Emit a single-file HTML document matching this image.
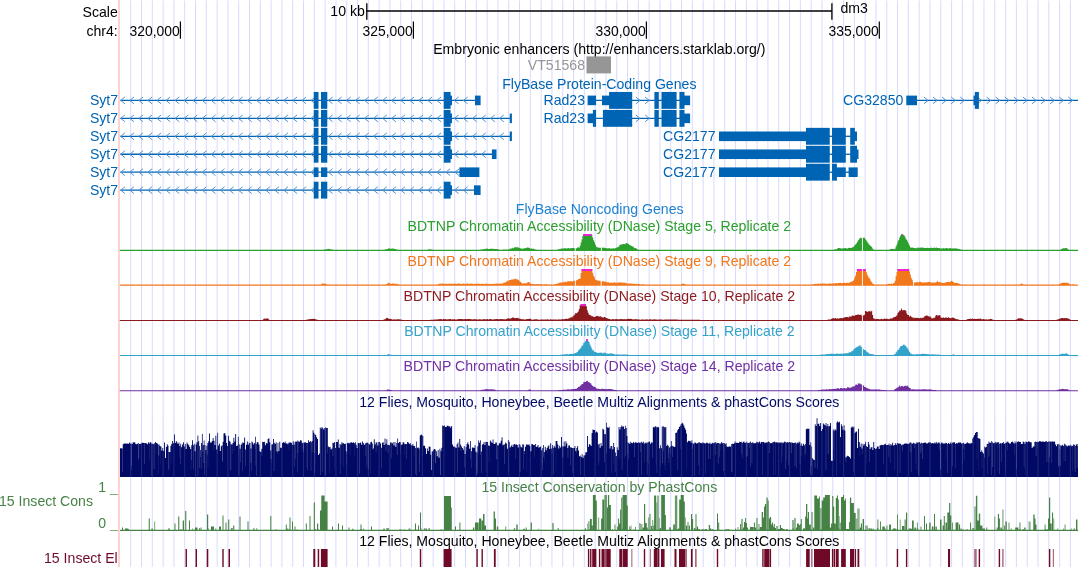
<!DOCTYPE html>
<html><head><meta charset="utf-8"><title>UCSC Genome Browser dm3 chr4</title>
<style>html,body{margin:0;padding:0;background:#fff}body{width:1078px;height:567px;overflow:hidden}svg{display:block}</style>
</head><body>
<svg width="1078" height="567" viewBox="0 0 1078 567" font-family="Liberation Sans, Arial, Helvetica, sans-serif" font-size="14.1">
<rect width="1078" height="567" fill="#fff"/>
<path d="M130.70 0.5V567M141.50 0.5V567M152.30 0.5V567M163.10 0.5V567M173.90 0.5V567M184.70 0.5V567M195.51 0.5V567M206.31 0.5V567M217.11 0.5V567M227.91 0.5V567M238.71 0.5V567M249.51 0.5V567M260.31 0.5V567M271.11 0.5V567M281.91 0.5V567M292.72 0.5V567M303.52 0.5V567M314.32 0.5V567M325.12 0.5V567M335.92 0.5V567M346.72 0.5V567M357.52 0.5V567M368.32 0.5V567M379.12 0.5V567M389.92 0.5V567M400.72 0.5V567M411.53 0.5V567M422.33 0.5V567M433.13 0.5V567M443.93 0.5V567M454.73 0.5V567M465.53 0.5V567M476.33 0.5V567M487.13 0.5V567M497.93 0.5V567M508.74 0.5V567M519.54 0.5V567M530.34 0.5V567M541.14 0.5V567M551.94 0.5V567M562.74 0.5V567M573.54 0.5V567M584.34 0.5V567M595.14 0.5V567M605.94 0.5V567M616.75 0.5V567M627.55 0.5V567M638.35 0.5V567M649.15 0.5V567M659.95 0.5V567M670.75 0.5V567M681.55 0.5V567M692.35 0.5V567M703.15 0.5V567M713.95 0.5V567M724.76 0.5V567M735.56 0.5V567M746.36 0.5V567M757.16 0.5V567M767.96 0.5V567M778.76 0.5V567M789.56 0.5V567M800.36 0.5V567M811.16 0.5V567M821.96 0.5V567M832.77 0.5V567M843.57 0.5V567M854.37 0.5V567M865.17 0.5V567M875.97 0.5V567M886.77 0.5V567M897.57 0.5V567M908.37 0.5V567M919.17 0.5V567M929.97 0.5V567M940.78 0.5V567M951.58 0.5V567M962.38 0.5V567M973.18 0.5V567M983.98 0.5V567M994.78 0.5V567M1005.58 0.5V567M1016.38 0.5V567M1027.18 0.5V567M1037.98 0.5V567M1048.79 0.5V567M1059.59 0.5V567M1070.39 0.5V567" stroke="#d9d9ff" stroke-width="1.0" fill="none" opacity="1"/>
<rect x="118.2" y="0" width="1.6" height="567" fill="#ffc8c8"/>
<path d="M366.7 11H832" stroke="#000" stroke-width="1.7" fill="none"/>
<path d="M366.8 3.2V19.8M831.9 3.2V19.8" stroke="#000" stroke-width="1.3" fill="none"/>
<path d="M180.4 21.5V38.7" stroke="#000" stroke-width="1.2" fill="none"/>
<path d="M413.4 21.5V38.7" stroke="#000" stroke-width="1.2" fill="none"/>
<path d="M646.4 21.5V38.7" stroke="#000" stroke-width="1.2" fill="none"/>
<path d="M879.3 21.5V38.7" stroke="#000" stroke-width="1.2" fill="none"/>
<text x="117.8" y="16.5" fill="#000" text-anchor="end" >Scale</text>
<text x="364.8" y="16.0" fill="#000" text-anchor="end" >10 kb</text>
<text x="840.4" y="13.0" fill="#000" text-anchor="start" >dm3</text>
<text x="117.8" y="35.9" fill="#000" text-anchor="end" >chr4:</text>
<text x="179.8" y="35.9" fill="#000" text-anchor="end" font-size="13.9">320,000</text>
<text x="412.79999999999995" y="35.9" fill="#000" text-anchor="end" font-size="13.9">325,000</text>
<text x="645.8" y="35.9" fill="#000" text-anchor="end" font-size="13.9">330,000</text>
<text x="878.6999999999999" y="35.9" fill="#000" text-anchor="end" font-size="13.9">335,000</text>
<text x="599.3" y="53.6" fill="#000" text-anchor="middle" >Embryonic enhancers (http://enhancers.starklab.org/)</text>
<text x="585.0" y="69.8" fill="#969696" text-anchor="end" >VT51568</text>
<rect x="586.5" y="56.4" width="24.5" height="17" fill="#969696"/>
<text x="599.3" y="88.9" fill="#0064b4" text-anchor="middle" >FlyBase Protein-Coding Genes</text>
<path d="M120.25 100.40H478" stroke="#0064b4" stroke-width="1.3" fill="none"/><path d="M124.90 97.00L120.70 100.40L124.90 103.80M133.96 97.00L129.76 100.40L133.96 103.80M143.02 97.00L138.82 100.40L143.02 103.80M152.08 97.00L147.88 100.40L152.08 103.80M161.14 97.00L156.94 100.40L161.14 103.80M170.20 97.00L166.00 100.40L170.20 103.80M179.26 97.00L175.06 100.40L179.26 103.80M188.32 97.00L184.12 100.40L188.32 103.80M197.38 97.00L193.18 100.40L197.38 103.80M206.44 97.00L202.24 100.40L206.44 103.80M215.50 97.00L211.30 100.40L215.50 103.80M224.56 97.00L220.36 100.40L224.56 103.80M233.62 97.00L229.42 100.40L233.62 103.80M242.68 97.00L238.48 100.40L242.68 103.80M251.74 97.00L247.54 100.40L251.74 103.80M260.80 97.00L256.60 100.40L260.80 103.80M269.86 97.00L265.66 100.40L269.86 103.80M278.92 97.00L274.72 100.40L278.92 103.80M287.98 97.00L283.78 100.40L287.98 103.80M297.04 97.00L292.84 100.40L297.04 103.80M306.10 97.00L301.90 100.40L306.10 103.80M315.16 97.00L310.96 100.40L315.16 103.80M332.60 97.00L328.40 100.40L332.60 103.80M341.64 97.00L337.44 100.40L341.64 103.80M350.68 97.00L346.48 100.40L350.68 103.80M359.72 97.00L355.52 100.40L359.72 103.80M368.76 97.00L364.56 100.40L368.76 103.80M377.80 97.00L373.60 100.40L377.80 103.80M386.84 97.00L382.64 100.40L386.84 103.80M395.88 97.00L391.68 100.40L395.88 103.80M404.92 97.00L400.72 100.40L404.92 103.80M413.96 97.00L409.76 100.40L413.96 103.80M423.00 97.00L418.80 100.40L423.00 103.80M432.04 97.00L427.84 100.40L432.04 103.80M441.08 97.00L436.88 100.40L441.08 103.80M458.60 97.00L454.40 100.40L458.60 103.80M467.65 97.00L463.45 100.40L467.65 103.80" stroke="#5094d2" stroke-width="1" fill="none"/><rect x="313.75" y="91.95" width="4.75" height="16.90" fill="#0064b4"/><rect x="321" y="91.95" width="6.30" height="16.90" fill="#0064b4"/><rect x="443.75" y="91.95" width="6.85" height="16.90" fill="#0064b4"/><rect x="449.6" y="95.60" width="2.40" height="9.60" fill="#0064b4"/><rect x="475" y="95.60" width="5.60" height="9.60" fill="#0064b4"/><path d="M120.25 118.35H511" stroke="#0064b4" stroke-width="1.3" fill="none"/><path d="M124.90 114.95L120.70 118.35L124.90 121.75M133.96 114.95L129.76 118.35L133.96 121.75M143.02 114.95L138.82 118.35L143.02 121.75M152.08 114.95L147.88 118.35L152.08 121.75M161.14 114.95L156.94 118.35L161.14 121.75M170.20 114.95L166.00 118.35L170.20 121.75M179.26 114.95L175.06 118.35L179.26 121.75M188.32 114.95L184.12 118.35L188.32 121.75M197.38 114.95L193.18 118.35L197.38 121.75M206.44 114.95L202.24 118.35L206.44 121.75M215.50 114.95L211.30 118.35L215.50 121.75M224.56 114.95L220.36 118.35L224.56 121.75M233.62 114.95L229.42 118.35L233.62 121.75M242.68 114.95L238.48 118.35L242.68 121.75M251.74 114.95L247.54 118.35L251.74 121.75M260.80 114.95L256.60 118.35L260.80 121.75M269.86 114.95L265.66 118.35L269.86 121.75M278.92 114.95L274.72 118.35L278.92 121.75M287.98 114.95L283.78 118.35L287.98 121.75M297.04 114.95L292.84 118.35L297.04 121.75M306.10 114.95L301.90 118.35L306.10 121.75M315.16 114.95L310.96 118.35L315.16 121.75M332.60 114.95L328.40 118.35L332.60 121.75M341.64 114.95L337.44 118.35L341.64 121.75M350.68 114.95L346.48 118.35L350.68 121.75M359.72 114.95L355.52 118.35L359.72 121.75M368.76 114.95L364.56 118.35L368.76 121.75M377.80 114.95L373.60 118.35L377.80 121.75M386.84 114.95L382.64 118.35L386.84 121.75M395.88 114.95L391.68 118.35L395.88 121.75M404.92 114.95L400.72 118.35L404.92 121.75M413.96 114.95L409.76 118.35L413.96 121.75M423.00 114.95L418.80 118.35L423.00 121.75M432.04 114.95L427.84 118.35L432.04 121.75M441.08 114.95L436.88 118.35L441.08 121.75M458.60 114.95L454.40 118.35L458.60 121.75M467.65 114.95L463.45 118.35L467.65 121.75M476.70 114.95L472.50 118.35L476.70 121.75M485.75 114.95L481.55 118.35L485.75 121.75M494.80 114.95L490.60 118.35L494.80 121.75M503.85 114.95L499.65 118.35L503.85 121.75" stroke="#5094d2" stroke-width="1" fill="none"/><rect x="313.75" y="109.90" width="4.75" height="16.90" fill="#0064b4"/><rect x="321" y="109.90" width="6.30" height="16.90" fill="#0064b4"/><rect x="443.75" y="109.90" width="6.85" height="16.90" fill="#0064b4"/><rect x="449.6" y="113.55" width="2.40" height="9.60" fill="#0064b4"/><rect x="509.75" y="113.55" width="2.15" height="9.60" fill="#0064b4"/><path d="M120.25 136.30H511" stroke="#0064b4" stroke-width="1.3" fill="none"/><path d="M124.90 132.90L120.70 136.30L124.90 139.70M133.96 132.90L129.76 136.30L133.96 139.70M143.02 132.90L138.82 136.30L143.02 139.70M152.08 132.90L147.88 136.30L152.08 139.70M161.14 132.90L156.94 136.30L161.14 139.70M170.20 132.90L166.00 136.30L170.20 139.70M179.26 132.90L175.06 136.30L179.26 139.70M188.32 132.90L184.12 136.30L188.32 139.70M197.38 132.90L193.18 136.30L197.38 139.70M206.44 132.90L202.24 136.30L206.44 139.70M215.50 132.90L211.30 136.30L215.50 139.70M224.56 132.90L220.36 136.30L224.56 139.70M233.62 132.90L229.42 136.30L233.62 139.70M242.68 132.90L238.48 136.30L242.68 139.70M251.74 132.90L247.54 136.30L251.74 139.70M260.80 132.90L256.60 136.30L260.80 139.70M269.86 132.90L265.66 136.30L269.86 139.70M278.92 132.90L274.72 136.30L278.92 139.70M287.98 132.90L283.78 136.30L287.98 139.70M297.04 132.90L292.84 136.30L297.04 139.70M306.10 132.90L301.90 136.30L306.10 139.70M315.16 132.90L310.96 136.30L315.16 139.70M332.60 132.90L328.40 136.30L332.60 139.70M341.64 132.90L337.44 136.30L341.64 139.70M350.68 132.90L346.48 136.30L350.68 139.70M359.72 132.90L355.52 136.30L359.72 139.70M368.76 132.90L364.56 136.30L368.76 139.70M377.80 132.90L373.60 136.30L377.80 139.70M386.84 132.90L382.64 136.30L386.84 139.70M395.88 132.90L391.68 136.30L395.88 139.70M404.92 132.90L400.72 136.30L404.92 139.70M413.96 132.90L409.76 136.30L413.96 139.70M423.00 132.90L418.80 136.30L423.00 139.70M432.04 132.90L427.84 136.30L432.04 139.70M441.08 132.90L436.88 136.30L441.08 139.70M458.60 132.90L454.40 136.30L458.60 139.70M467.65 132.90L463.45 136.30L467.65 139.70M476.70 132.90L472.50 136.30L476.70 139.70M485.75 132.90L481.55 136.30L485.75 139.70M494.80 132.90L490.60 136.30L494.80 139.70M503.85 132.90L499.65 136.30L503.85 139.70" stroke="#5094d2" stroke-width="1" fill="none"/><rect x="313.75" y="127.85" width="4.75" height="16.90" fill="#0064b4"/><rect x="321" y="127.85" width="6.30" height="16.90" fill="#0064b4"/><rect x="443.75" y="127.85" width="6.85" height="16.90" fill="#0064b4"/><rect x="449.6" y="131.50" width="2.40" height="9.60" fill="#0064b4"/><rect x="509.75" y="131.50" width="2.15" height="9.60" fill="#0064b4"/><path d="M120.25 154.25H494" stroke="#0064b4" stroke-width="1.3" fill="none"/><path d="M124.90 150.85L120.70 154.25L124.90 157.65M133.96 150.85L129.76 154.25L133.96 157.65M143.02 150.85L138.82 154.25L143.02 157.65M152.08 150.85L147.88 154.25L152.08 157.65M161.14 150.85L156.94 154.25L161.14 157.65M170.20 150.85L166.00 154.25L170.20 157.65M179.26 150.85L175.06 154.25L179.26 157.65M188.32 150.85L184.12 154.25L188.32 157.65M197.38 150.85L193.18 154.25L197.38 157.65M206.44 150.85L202.24 154.25L206.44 157.65M215.50 150.85L211.30 154.25L215.50 157.65M224.56 150.85L220.36 154.25L224.56 157.65M233.62 150.85L229.42 154.25L233.62 157.65M242.68 150.85L238.48 154.25L242.68 157.65M251.74 150.85L247.54 154.25L251.74 157.65M260.80 150.85L256.60 154.25L260.80 157.65M269.86 150.85L265.66 154.25L269.86 157.65M278.92 150.85L274.72 154.25L278.92 157.65M287.98 150.85L283.78 154.25L287.98 157.65M297.04 150.85L292.84 154.25L297.04 157.65M306.10 150.85L301.90 154.25L306.10 157.65M315.16 150.85L310.96 154.25L315.16 157.65M332.60 150.85L328.40 154.25L332.60 157.65M341.64 150.85L337.44 154.25L341.64 157.65M350.68 150.85L346.48 154.25L350.68 157.65M359.72 150.85L355.52 154.25L359.72 157.65M368.76 150.85L364.56 154.25L368.76 157.65M377.80 150.85L373.60 154.25L377.80 157.65M386.84 150.85L382.64 154.25L386.84 157.65M395.88 150.85L391.68 154.25L395.88 157.65M404.92 150.85L400.72 154.25L404.92 157.65M413.96 150.85L409.76 154.25L413.96 157.65M423.00 150.85L418.80 154.25L423.00 157.65M432.04 150.85L427.84 154.25L432.04 157.65M441.08 150.85L436.88 154.25L441.08 157.65M458.60 150.85L454.40 154.25L458.60 157.65M467.65 150.85L463.45 154.25L467.65 157.65M476.70 150.85L472.50 154.25L476.70 157.65M485.75 150.85L481.55 154.25L485.75 157.65" stroke="#5094d2" stroke-width="1" fill="none"/><rect x="313.75" y="145.80" width="4.75" height="16.90" fill="#0064b4"/><rect x="321" y="145.80" width="6.30" height="16.90" fill="#0064b4"/><rect x="443.75" y="145.80" width="6.85" height="16.90" fill="#0064b4"/><rect x="449.6" y="149.45" width="2.40" height="9.60" fill="#0064b4"/><rect x="491.9" y="149.45" width="4.60" height="9.60" fill="#0064b4"/><path d="M120.25 172.20H470" stroke="#0064b4" stroke-width="1.3" fill="none"/><path d="M124.90 168.80L120.70 172.20L124.90 175.60M133.96 168.80L129.76 172.20L133.96 175.60M143.02 168.80L138.82 172.20L143.02 175.60M152.08 168.80L147.88 172.20L152.08 175.60M161.14 168.80L156.94 172.20L161.14 175.60M170.20 168.80L166.00 172.20L170.20 175.60M179.26 168.80L175.06 172.20L179.26 175.60M188.32 168.80L184.12 172.20L188.32 175.60M197.38 168.80L193.18 172.20L197.38 175.60M206.44 168.80L202.24 172.20L206.44 175.60M215.50 168.80L211.30 172.20L215.50 175.60M224.56 168.80L220.36 172.20L224.56 175.60M233.62 168.80L229.42 172.20L233.62 175.60M242.68 168.80L238.48 172.20L242.68 175.60M251.74 168.80L247.54 172.20L251.74 175.60M260.80 168.80L256.60 172.20L260.80 175.60M269.86 168.80L265.66 172.20L269.86 175.60M278.92 168.80L274.72 172.20L278.92 175.60M287.98 168.80L283.78 172.20L287.98 175.60M297.04 168.80L292.84 172.20L297.04 175.60M306.10 168.80L301.90 172.20L306.10 175.60M315.16 168.80L310.96 172.20L315.16 175.60M332.60 168.80L328.40 172.20L332.60 175.60M341.64 168.80L337.44 172.20L341.64 175.60M350.68 168.80L346.48 172.20L350.68 175.60M359.72 168.80L355.52 172.20L359.72 175.60M368.76 168.80L364.56 172.20L368.76 175.60M377.80 168.80L373.60 172.20L377.80 175.60M386.84 168.80L382.64 172.20L386.84 175.60M395.88 168.80L391.68 172.20L395.88 175.60M404.92 168.80L400.72 172.20L404.92 175.60M413.96 168.80L409.76 172.20L413.96 175.60M423.00 168.80L418.80 172.20L423.00 175.60M432.04 168.80L427.84 172.20L432.04 175.60M441.08 168.80L436.88 172.20L441.08 175.60M450.12 168.80L445.92 172.20L450.12 175.60M459.16 168.80L454.96 172.20L459.16 175.60" stroke="#5094d2" stroke-width="1" fill="none"/><rect x="313.75" y="167.40" width="4.75" height="9.60" fill="#0064b4"/><rect x="321" y="167.40" width="6.30" height="9.60" fill="#0064b4"/><rect x="459.4" y="167.40" width="20.00" height="9.60" fill="#0064b4"/><path d="M120.25 190.15H478" stroke="#0064b4" stroke-width="1.3" fill="none"/><path d="M124.90 186.75L120.70 190.15L124.90 193.55M133.96 186.75L129.76 190.15L133.96 193.55M143.02 186.75L138.82 190.15L143.02 193.55M152.08 186.75L147.88 190.15L152.08 193.55M161.14 186.75L156.94 190.15L161.14 193.55M170.20 186.75L166.00 190.15L170.20 193.55M179.26 186.75L175.06 190.15L179.26 193.55M188.32 186.75L184.12 190.15L188.32 193.55M197.38 186.75L193.18 190.15L197.38 193.55M206.44 186.75L202.24 190.15L206.44 193.55M215.50 186.75L211.30 190.15L215.50 193.55M224.56 186.75L220.36 190.15L224.56 193.55M233.62 186.75L229.42 190.15L233.62 193.55M242.68 186.75L238.48 190.15L242.68 193.55M251.74 186.75L247.54 190.15L251.74 193.55M260.80 186.75L256.60 190.15L260.80 193.55M269.86 186.75L265.66 190.15L269.86 193.55M278.92 186.75L274.72 190.15L278.92 193.55M287.98 186.75L283.78 190.15L287.98 193.55M297.04 186.75L292.84 190.15L297.04 193.55M306.10 186.75L301.90 190.15L306.10 193.55M315.16 186.75L310.96 190.15L315.16 193.55M332.60 186.75L328.40 190.15L332.60 193.55M341.64 186.75L337.44 190.15L341.64 193.55M350.68 186.75L346.48 190.15L350.68 193.55M359.72 186.75L355.52 190.15L359.72 193.55M368.76 186.75L364.56 190.15L368.76 193.55M377.80 186.75L373.60 190.15L377.80 193.55M386.84 186.75L382.64 190.15L386.84 193.55M395.88 186.75L391.68 190.15L395.88 193.55M404.92 186.75L400.72 190.15L404.92 193.55M413.96 186.75L409.76 190.15L413.96 193.55M423.00 186.75L418.80 190.15L423.00 193.55M432.04 186.75L427.84 190.15L432.04 193.55M441.08 186.75L436.88 190.15L441.08 193.55M458.60 186.75L454.40 190.15L458.60 193.55M467.65 186.75L463.45 190.15L467.65 193.55" stroke="#5094d2" stroke-width="1" fill="none"/><rect x="313.75" y="181.70" width="4.75" height="16.90" fill="#0064b4"/><rect x="321" y="181.70" width="6.30" height="16.90" fill="#0064b4"/><rect x="443.75" y="181.70" width="6.85" height="16.90" fill="#0064b4"/><rect x="449.6" y="185.35" width="2.40" height="9.60" fill="#0064b4"/><rect x="474" y="185.35" width="6.60" height="9.60" fill="#0064b4"/><path d="M590 100.40H688" stroke="#0064b4" stroke-width="1.3" fill="none"/><path d="M635.80 97.00L640.00 100.40L635.80 103.80M645.10 97.00L649.30 100.40L645.10 103.80" stroke="#5094d2" stroke-width="1" fill="none"/><rect x="609.1" y="91.95" width="23.10" height="16.90" fill="#0064b4"/><rect x="654.4" y="91.95" width="4.40" height="16.90" fill="#0064b4"/><rect x="661.5" y="91.95" width="15.10" height="16.90" fill="#0064b4"/><rect x="679.4" y="91.95" width="5.10" height="16.90" fill="#0064b4"/><rect x="587.6" y="95.60" width="8.50" height="9.60" fill="#0064b4"/><rect x="602" y="95.60" width="8.10" height="9.60" fill="#0064b4"/><rect x="683.5" y="95.60" width="6.60" height="9.60" fill="#0064b4"/><path d="M590 118.35H688" stroke="#0064b4" stroke-width="1.3" fill="none"/><path d="M635.80 114.95L640.00 118.35L635.80 121.75M645.10 114.95L649.30 118.35L645.10 121.75" stroke="#5094d2" stroke-width="1" fill="none"/><rect x="592.9" y="109.90" width="3.20" height="16.90" fill="#0064b4"/><rect x="602.9" y="109.90" width="29.30" height="16.90" fill="#0064b4"/><rect x="654.4" y="109.90" width="4.40" height="16.90" fill="#0064b4"/><rect x="661.5" y="109.90" width="15.10" height="16.90" fill="#0064b4"/><rect x="679.4" y="109.90" width="5.10" height="16.90" fill="#0064b4"/><rect x="587.6" y="113.55" width="6.30" height="9.60" fill="#0064b4"/><rect x="683.5" y="113.55" width="6.60" height="9.60" fill="#0064b4"/><path d="M825 136.30H856" stroke="#0064b4" stroke-width="1.3" fill="none"/><rect x="806" y="127.85" width="23.75" height="16.90" fill="#0064b4"/><rect x="832" y="127.85" width="13.80" height="16.90" fill="#0064b4"/><rect x="850.2" y="127.85" width="4.60" height="16.90" fill="#0064b4"/><rect x="719" y="131.50" width="88.00" height="9.60" fill="#0064b4"/><rect x="853.8" y="131.50" width="3.20" height="9.60" fill="#0064b4"/><path d="M825 154.25H856" stroke="#0064b4" stroke-width="1.3" fill="none"/><rect x="806" y="145.80" width="23.75" height="16.90" fill="#0064b4"/><rect x="832" y="145.80" width="13.80" height="16.90" fill="#0064b4"/><rect x="850.2" y="145.80" width="6.80" height="16.90" fill="#0064b4"/><rect x="719" y="149.45" width="88.00" height="9.60" fill="#0064b4"/><rect x="856" y="149.45" width="2.50" height="9.60" fill="#0064b4"/><path d="M825 172.20H856" stroke="#0064b4" stroke-width="1.3" fill="none"/><rect x="806" y="163.75" width="23.75" height="16.90" fill="#0064b4"/><rect x="832" y="163.75" width="4.90" height="16.90" fill="#0064b4"/><rect x="719" y="167.40" width="88.00" height="9.60" fill="#0064b4"/><rect x="835.9" y="167.40" width="9.90" height="9.60" fill="#0064b4"/><rect x="848.6" y="167.40" width="9.10" height="9.60" fill="#0064b4"/><path d="M910 100.40H1078" stroke="#0064b4" stroke-width="1.3" fill="none"/><path d="M923.87 97.00L928.07 100.40L923.87 103.80M932.95 97.00L937.15 100.40L932.95 103.80M942.03 97.00L946.23 100.40L942.03 103.80M951.11 97.00L955.31 100.40L951.11 103.80M960.19 97.00L964.39 100.40L960.19 103.80M977.50 97.00L981.70 100.40L977.50 103.80M986.58 97.00L990.78 100.40L986.58 103.80M995.66 97.00L999.86 100.40L995.66 103.80M1004.74 97.00L1008.94 100.40L1004.74 103.80M1013.82 97.00L1018.02 100.40L1013.82 103.80M1022.90 97.00L1027.10 100.40L1022.90 103.80M1031.98 97.00L1036.18 100.40L1031.98 103.80M1041.06 97.00L1045.26 100.40L1041.06 103.80M1050.14 97.00L1054.34 100.40L1050.14 103.80M1059.22 97.00L1063.42 100.40L1059.22 103.80M1068.30 97.00L1072.50 100.40L1068.30 103.80" stroke="#5094d2" stroke-width="1" fill="none"/><rect x="974.8" y="91.95" width="4.10" height="16.90" fill="#0064b4"/><rect x="906.3" y="95.60" width="10.70" height="9.60" fill="#0064b4"/><rect x="973.5" y="95.60" width="2.30" height="9.60" fill="#0064b4"/>
<text x="118.1" y="104.85000000000001" fill="#0064b4" text-anchor="end" >Syt7</text>
<text x="118.1" y="122.80000000000001" fill="#0064b4" text-anchor="end" >Syt7</text>
<text x="118.1" y="140.75" fill="#0064b4" text-anchor="end" >Syt7</text>
<text x="118.1" y="158.7" fill="#0064b4" text-anchor="end" >Syt7</text>
<text x="118.1" y="176.64999999999998" fill="#0064b4" text-anchor="end" >Syt7</text>
<text x="118.1" y="194.6" fill="#0064b4" text-anchor="end" >Syt7</text>
<text x="585.0" y="104.85000000000001" fill="#0064b4" text-anchor="end" >Rad23</text>
<text x="585.0" y="122.80000000000001" fill="#0064b4" text-anchor="end" >Rad23</text>
<text x="715.5" y="140.75" fill="#0064b4" text-anchor="end" >CG2177</text>
<text x="715.5" y="158.7" fill="#0064b4" text-anchor="end" >CG2177</text>
<text x="715.5" y="176.64999999999998" fill="#0064b4" text-anchor="end" >CG2177</text>
<text x="903.4" y="104.85000000000001" fill="#0064b4" text-anchor="end" >CG32850</text>
<text x="599.6999999999999" y="213.5" fill="#1e82d2" text-anchor="middle" >FlyBase Noncoding Genes</text>
<text x="599.3" y="230.7" fill="#2ca02c" text-anchor="middle" >BDTNP Chromatin Accessibility (DNase) Stage 5, Replicate 2</text>
<text x="599.3" y="265.6" fill="#f2761a" text-anchor="middle" >BDTNP Chromatin Accessibility (DNase) Stage 9, Replicate 2</text>
<text x="599.3" y="300.8" fill="#8c1a1c" text-anchor="middle" >BDTNP Chromatin Accessibility (DNase) Stage 10, Replicate 2</text>
<text x="599.3" y="335.9" fill="#34a3c9" text-anchor="middle" >BDTNP Chromatin Accessibility (DNase) Stage 11, Replicate 2</text>
<text x="599.3" y="371.0" fill="#7030a0" text-anchor="middle" >BDTNP Chromatin Accessibility (DNase) Stage 14, Replicate 2</text>
<path d="M119.8 250.9V249.8H120.7V249.8H121.6V249.8H122.5V249.8H123.4V249.8H124.3V249.8H125.2V249.8H126.1V249.8H127.0V249.8H127.9V249.8H128.8V249.8H129.7V249.8H130.6V249.8H131.5V249.8H132.4V249.8H133.3V249.8H134.2V249.8H135.1V249.8H136.0V249.8H136.9V249.8H137.8V249.8H138.7V249.8H139.6V249.8H140.5V249.8H141.4V249.8H142.3V249.8H143.2V249.8H144.1V249.8H145.0V249.8H145.9V249.8H146.8V249.8H147.7V249.8H148.6V249.8H149.5V249.8H150.4V249.8H151.3V249.8H152.2V249.8H153.1V249.8H154.0V249.8H154.9V249.8H155.8V249.8H156.7V249.8H157.6V249.8H158.5V249.8H159.4V249.8H160.3V249.8H161.2V249.8H162.1V249.8H163.0V249.8H163.9V249.8H164.8V249.8H165.7V249.8H166.6V249.8H167.5V249.8H168.4V249.8H169.3V249.8H170.2V249.8H171.1V249.8H172.0V249.8H172.9V249.8H173.8V249.8H174.7V249.8H175.6V249.8H176.5V249.8H177.4V249.8H178.3V249.8H179.2V249.8H180.1V249.8H181.0V249.8H181.9V249.8H182.8V249.8H183.7V249.8H184.6V249.8H185.5V249.8H186.4V249.8H187.3V249.8H188.2V249.8H189.1V249.8H190.0V249.8H190.9V249.8H191.8V249.8H192.7V249.8H193.6V249.8H194.5V249.8H195.4V249.8H196.3V249.8H197.2V249.8H198.1V249.8H199.0V249.8H199.9V249.8H200.8V249.8H201.7V249.8H202.6V249.8H203.5V249.8H204.4V249.8H205.3V249.8H206.2V249.8H207.1V249.8H208.0V249.8H208.9V249.8H209.8V249.8H210.7V249.8H211.6V249.8H212.5V249.8H213.4V249.8H214.3V249.8H215.2V249.8H216.1V249.8H217.0V249.8H217.9V249.8H218.8V249.8H219.7V249.8H220.6V249.8H221.5V249.8H222.4V249.8H223.3V249.8H224.2V249.8H225.1V249.8H226.0V249.8H226.9V249.8H227.8V249.8H228.7V249.8H229.6V249.8H230.5V249.8H231.4V249.8H232.3V249.8H233.2V249.8H234.1V249.8H235.0V249.8H235.9V249.8H236.8V249.8H237.7V249.8H238.6V249.8H239.5V249.8H240.4V249.8H241.3V249.8H242.2V249.8H243.1V249.8H244.0V249.8H244.9V249.8H245.8V249.8H246.7V249.8H247.6V249.8H248.5V249.8H249.4V249.8H250.3V249.8H251.2V249.8H252.1V249.8H253.0V249.8H253.9V249.8H254.8V249.8H255.7V249.8H256.6V249.8H257.5V249.8H258.4V249.8H259.3V249.8H260.2V249.8H261.1V249.8H262.0V249.8H262.9V249.8H263.8V249.8H264.7V249.8H265.6V249.8H266.5V249.8H267.4V249.8H268.3V249.8H269.2V249.8H270.1V249.8H271.0V249.8H271.9V249.8H272.8V249.8H273.7V249.8H274.6V249.8H275.5V249.8H276.4V249.8H277.3V249.8H278.2V249.8H279.1V249.8H280.0V249.8H280.9V249.8H281.8V249.8H282.7V249.8H283.6V249.8H284.5V249.8H285.4V249.8H286.3V249.8H287.2V249.8H288.1V249.8H289.0V249.8H289.9V249.8H290.8V249.8H291.7V249.8H292.6V249.8H293.5V249.8H294.4V249.8H295.3V249.8H296.2V249.8H297.1V249.8H298.0V249.8H298.9V249.8H299.8V249.8H300.7V249.8H301.6V249.8H302.5V249.8H303.4V249.8H304.3V249.8H305.2V249.8H306.1V249.8H307.0V249.8H307.9V249.8H308.8V249.8H309.7V249.8H310.6V249.8H311.5V249.8H312.4V249.8H313.3V249.8H314.2V249.8H315.1V249.8H316.0V249.8H316.9V249.8H317.8V249.8H318.7V249.8H319.6V249.8H320.5V249.8H321.4V249.8H322.3V249.7H323.2V249.5H324.1V249.5H325.0V249.4H325.9V249.0H326.8V249.2H327.7V248.7H328.6V248.9H329.5V249.3H330.4V249.2H331.3V249.6H332.2V249.6H333.1V249.8H334.0V249.8H334.9V249.8H335.8V249.8H336.7V249.8H337.6V249.8H338.5V249.8H339.4V249.8H340.3V249.8H341.2V249.8H342.1V249.8H343.0V249.8H343.9V249.8H344.8V249.8H345.7V249.8H346.6V249.8H347.5V249.8H348.4V249.8H349.3V249.8H350.2V249.8H351.1V249.8H352.0V249.8H352.9V249.8H353.8V249.8H354.7V249.8H355.6V249.8H356.5V249.8H357.4V249.8H358.3V249.8H359.2V249.8H360.1V249.8H361.0V249.8H361.9V249.8H362.8V249.8H363.7V249.8H364.6V249.8H365.5V249.8H366.4V249.8H367.3V249.8H368.2V249.8H369.1V249.8H370.0V249.8H370.9V249.8H371.8V249.8H372.7V249.8H373.6V249.8H374.5V249.8H375.4V249.8H376.3V249.8H377.2V249.8H378.1V249.8H379.0V249.8H379.9V249.8H380.8V249.8H381.7V249.8H382.6V249.8H383.5V249.8H384.4V249.6H385.3V249.3H386.2V249.3H387.1V249.0H388.0V248.5H388.9V248.2H389.8V248.8H390.7V248.7H391.6V248.5H392.5V248.4H393.4V248.8H394.3V249.1H395.2V249.0H396.1V249.6H397.0V249.6H397.9V249.7H398.8V249.8H399.7V249.8H400.6V249.8H401.5V249.8H402.4V249.8H403.3V249.8H404.2V249.8H405.1V249.8H406.0V249.8H406.9V249.8H407.8V249.8H408.7V249.8H409.6V249.8H410.5V249.8H411.4V249.8H412.3V249.8H413.2V249.8H414.1V249.8H415.0V249.8H415.9V249.8H416.8V249.8H417.7V249.8H418.6V249.8H419.5V249.8H420.4V249.8H421.3V249.8H422.2V249.8H423.1V249.8H424.0V249.8H424.9V249.8H425.8V249.8H426.7V249.8H427.6V249.6H428.5V249.2H429.4V249.2H430.3V249.2H431.2V249.4H432.1V249.5H433.0V249.8H433.9V249.8H434.8V249.8H435.7V249.8H436.6V249.8H437.5V249.8H438.4V249.8H439.3V249.8H440.2V249.8H441.1V249.8H442.0V249.8H442.9V249.8H443.8V249.8H444.7V249.8H445.6V249.8H446.5V249.8H447.4V249.8H448.3V249.8H449.2V249.8H450.1V249.8H451.0V249.8H451.9V249.8H452.8V249.8H453.7V249.8H454.6V249.8H455.5V249.8H456.4V249.8H457.3V249.8H458.2V249.8H459.1V249.8H460.0V249.8H460.9V249.8H461.8V249.8H462.7V249.8H463.6V249.8H464.5V249.8H465.4V249.8H466.3V249.8H467.2V249.8H468.1V249.8H469.0V249.8H469.9V249.8H470.8V249.8H471.7V249.8H472.6V249.8H473.5V249.8H474.4V249.8H475.3V249.8H476.2V249.8H477.1V249.8H478.0V249.8H478.9V249.8H479.8V249.6H480.7V249.5H481.6V249.5H482.5V249.1H483.4V249.3H484.3V248.9H485.2V248.8H486.1V248.8H487.0V248.6H487.9V248.9H488.8V249.0H489.7V248.9H490.6V248.6H491.5V248.8H492.4V248.9H493.3V248.8H494.2V248.9H495.1V249.0H496.0V248.9H496.9V249.1H497.8V249.5H498.7V249.5H499.6V249.7H500.5V249.7H501.4V249.7H502.3V249.6H503.2V249.6H504.1V249.6H505.0V249.5H505.9V249.5H506.8V249.5H507.7V249.4H508.6V249.2H509.5V248.7H510.4V248.5H511.3V248.5H512.2V247.7H513.1V248.2H514.0V247.6H514.9V247.0H515.8V247.4H516.7V246.7H517.6V247.7H518.5V247.5H519.4V247.9H520.3V248.5H521.2V248.6H522.1V248.8H523.0V248.4H523.9V248.3H524.8V248.2H525.7V248.1H526.6V247.6H527.5V247.4H528.4V247.8H529.3V247.9H530.2V248.7H531.1V248.4H532.0V248.7H532.9V248.8H533.8V249.1H534.7V249.5H535.6V249.5H536.5V249.7H537.4V249.8H538.3V249.8H539.2V249.8H540.1V249.8H541.0V249.8H541.9V249.8H542.8V249.8H543.7V249.8H544.6V249.8H545.5V249.8H546.4V249.8H547.3V249.8H548.2V249.8H549.1V249.8H550.0V249.8H550.9V249.8H551.8V249.8H552.7V249.8H553.6V249.8H554.5V249.8H555.4V249.8H556.3V249.7H557.2V249.5H558.1V249.3H559.0V248.9H559.9V249.1H560.8V248.6H561.7V248.6H562.6V248.6H563.5V248.6H564.4V248.1H565.3V248.6H566.2V248.4H567.1V248.3H568.0V247.9H568.9V248.6H569.8V248.2H570.7V248.2H571.6V247.9H572.5V247.9H573.4V247.9H574.3V248.4H575.2V248.3H576.1V248.3H577.0V247.6H577.9V247.3H578.8V247.8H579.7V245.8H580.6V242.6H581.5V239.5H582.4V236.1H583.3V234.0H584.2V234.0H585.1V234.0H586.0V234.0H586.9V234.0H587.8V234.0H588.7V234.0H589.6V234.0H590.5V234.0H591.4V234.7H592.3V237.6H593.2V240.3H594.1V242.2H595.0V244.7H595.9V246.8H596.8V247.3H597.7V247.6H598.6V247.8H599.5V247.7H600.4V247.7H601.3V248.3H602.2V247.6H603.1V247.8H604.0V247.8H604.9V247.9H605.8V248.3H606.7V248.3H607.6V248.5H608.5V248.1H609.4V248.6H610.3V248.6H611.2V248.4H612.1V248.5H613.0V248.3H613.9V248.6H614.8V248.3H615.7V247.8H616.6V247.5H617.5V246.8H618.4V246.7H619.3V244.9H620.2V244.6H621.1V244.6H622.0V244.2H622.9V244.1H623.8V244.0H624.7V244.3H625.6V243.3H626.5V243.1H627.4V243.8H628.3V243.9H629.2V245.0H630.1V245.5H631.0V245.8H631.9V246.5H632.8V246.4H633.7V247.7H634.6V248.3H635.5V248.0H636.4V248.9H637.3V249.5H638.2V249.8H639.1V249.8H640.0V249.8H640.9V249.8H641.8V249.8H642.7V249.8H643.6V249.8H644.5V249.8H645.4V249.8H646.3V249.8H647.2V249.8H648.1V249.8H649.0V249.8H649.9V249.8H650.8V249.8H651.7V249.8H652.6V249.8H653.5V249.8H654.4V249.8H655.3V249.8H656.2V249.8H657.1V249.8H658.0V249.8H658.9V249.8H659.8V249.8H660.7V249.8H661.6V249.8H662.5V249.8H663.4V249.8H664.3V249.8H665.2V249.8H666.1V249.8H667.0V249.8H667.9V249.8H668.8V249.8H669.7V249.8H670.6V249.8H671.5V249.8H672.4V249.8H673.3V249.8H674.2V249.8H675.1V249.8H676.0V249.8H676.9V249.8H677.8V249.8H678.7V249.8H679.6V249.8H680.5V249.8H681.4V249.8H682.3V249.8H683.2V249.8H684.1V249.8H685.0V249.8H685.9V249.8H686.8V249.8H687.7V249.8H688.6V249.8H689.5V249.8H690.4V249.8H691.3V249.8H692.2V249.8H693.1V249.8H694.0V249.8H694.9V249.8H695.8V249.8H696.7V249.8H697.6V249.8H698.5V249.8H699.4V249.8H700.3V249.8H701.2V249.8H702.1V249.8H703.0V249.8H703.9V249.8H704.8V249.8H705.7V249.8H706.6V249.8H707.5V249.8H708.4V249.8H709.3V249.8H710.2V249.8H711.1V249.8H712.0V249.8H712.9V249.8H713.8V249.8H714.7V249.8H715.6V249.8H716.5V249.8H717.4V249.8H718.3V249.8H719.2V249.8H720.1V249.8H721.0V249.8H721.9V249.8H722.8V249.8H723.7V249.8H724.6V249.8H725.5V249.8H726.4V249.8H727.3V249.8H728.2V249.8H729.1V249.8H730.0V249.8H730.9V249.8H731.8V249.8H732.7V249.8H733.6V249.8H734.5V249.8H735.4V249.8H736.3V249.8H737.2V249.8H738.1V249.8H739.0V249.8H739.9V249.8H740.8V249.8H741.7V249.8H742.6V249.8H743.5V249.8H744.4V249.8H745.3V249.8H746.2V249.8H747.1V249.8H748.0V249.8H748.9V249.8H749.8V249.8H750.7V249.8H751.6V249.8H752.5V249.8H753.4V249.8H754.3V249.8H755.2V249.8H756.1V249.8H757.0V249.8H757.9V249.8H758.8V249.8H759.7V249.8H760.6V249.8H761.5V249.8H762.4V249.8H763.3V249.8H764.2V249.8H765.1V249.8H766.0V249.8H766.9V249.8H767.8V249.8H768.7V249.8H769.6V249.8H770.5V249.8H771.4V249.8H772.3V249.8H773.2V249.8H774.1V249.8H775.0V249.8H775.9V249.8H776.8V249.8H777.7V249.8H778.6V249.8H779.5V249.8H780.4V249.8H781.3V249.8H782.2V249.8H783.1V249.8H784.0V249.8H784.9V249.8H785.8V249.8H786.7V249.8H787.6V249.8H788.5V249.8H789.4V249.8H790.3V249.8H791.2V249.8H792.1V249.8H793.0V249.8H793.9V249.8H794.8V249.8H795.7V249.8H796.6V249.8H797.5V249.8H798.4V249.8H799.3V249.8H800.2V249.8H801.1V249.8H802.0V249.8H802.9V249.8H803.8V249.8H804.7V249.8H805.6V249.8H806.5V249.8H807.4V249.8H808.3V249.8H809.2V249.8H810.1V249.8H811.0V249.8H811.9V249.8H812.8V249.8H813.7V249.8H814.6V249.8H815.5V249.8H816.4V249.8H817.3V249.8H818.2V249.8H819.1V249.8H820.0V249.8H820.9V249.8H821.8V249.8H822.7V249.8H823.6V249.8H824.5V249.8H825.4V249.8H826.3V249.8H827.2V249.8H828.1V249.8H829.0V249.8H829.9V249.8H830.8V249.8H831.7V249.8H832.6V249.8H833.5V249.6H834.4V249.5H835.3V249.1H836.2V249.2H837.1V248.6H838.0V248.0H838.9V248.1H839.8V248.2H840.7V248.5H841.6V248.4H842.5V248.6H843.4V248.1H844.3V248.2H845.2V248.0H846.1V248.4H847.0V248.4H847.9V247.9H848.8V247.8H849.7V247.9H850.6V247.9H851.5V247.8H852.4V247.1H853.3V246.7H854.2V245.3H855.1V244.4H856.0V243.4H856.9V242.0H857.8V240.3H858.7V239.2H859.6V238.1H860.5V237.6H861.4V238.2H862.3V237.7H863.2V237.7H864.1V237.8H865.0V239.3H865.9V240.6H866.8V241.7H867.7V243.1H868.6V244.4H869.5V245.2H870.4V245.9H871.3V247.1H872.2V248.5H873.1V249.4H874.0V249.8H874.9V249.8H875.8V249.8H876.7V249.8H877.6V249.8H878.5V249.8H879.4V249.8H880.3V249.8H881.2V249.8H882.1V249.8H883.0V249.8H883.9V249.8H884.8V249.8H885.7V249.8H886.6V249.8H887.5V249.8H888.4V249.8H889.3V249.6H890.2V249.0H891.1V249.0H892.0V248.9H892.9V249.0H893.8V249.3H894.7V248.7H895.6V246.5H896.5V244.4H897.4V241.4H898.3V240.1H899.2V237.6H900.1V235.5H901.0V234.3H901.9V234.0H902.8V234.7H903.7V235.3H904.6V236.8H905.5V238.7H906.4V239.9H907.3V241.8H908.2V243.5H909.1V245.4H910.0V247.5H910.9V247.6H911.8V247.5H912.7V247.8H913.6V248.0H914.5V247.9H915.4V248.2H916.3V248.3H917.2V247.4H918.1V247.7H919.0V247.8H919.9V247.4H920.8V247.8H921.7V247.4H922.6V247.4H923.5V248.0H924.4V247.9H925.3V247.9H926.2V248.0H927.1V247.7H928.0V248.0H928.9V247.9H929.8V248.1H930.7V247.4H931.6V248.0H932.5V247.9H933.4V247.8H934.3V247.5H935.2V248.0H936.1V247.6H937.0V248.0H937.9V248.0H938.8V248.0H939.7V248.5H940.6V248.2H941.5V248.4H942.4V248.6H943.3V248.0H944.2V248.5H945.1V248.3H946.0V248.1H946.9V248.3H947.8V248.5H948.7V248.3H949.6V248.3H950.5V248.1H951.4V248.7H952.3V248.3H953.2V248.6H954.1V248.6H955.0V248.2H955.9V248.6H956.8V248.7H957.7V248.8H958.6V248.9H959.5V249.3H960.4V249.4H961.3V249.6H962.2V249.8H963.1V249.8H964.0V249.8H964.9V249.8H965.8V249.8H966.7V249.8H967.6V249.8H968.5V249.8H969.4V249.8H970.3V249.8H971.2V249.8H972.1V249.8H973.0V249.8H973.9V249.8H974.8V249.8H975.7V249.8H976.6V249.8H977.5V249.8H978.4V249.8H979.3V249.8H980.2V249.8H981.1V249.8H982.0V249.8H982.9V249.8H983.8V249.8H984.7V249.8H985.6V249.8H986.5V249.8H987.4V249.8H988.3V249.8H989.2V249.8H990.1V249.8H991.0V249.8H991.9V249.8H992.8V249.8H993.7V249.8H994.6V249.8H995.5V249.8H996.4V249.8H997.3V249.8H998.2V249.8H999.1V249.8H1000.0V249.8H1000.9V249.8H1001.8V249.8H1002.7V249.8H1003.6V249.8H1004.5V249.8H1005.4V249.8H1006.3V249.8H1007.2V249.8H1008.1V249.8H1009.0V249.8H1009.9V249.8H1010.8V249.8H1011.7V249.8H1012.6V249.8H1013.5V249.8H1014.4V249.8H1015.3V249.8H1016.2V249.8H1017.1V249.8H1018.0V249.8H1018.9V249.8H1019.8V249.8H1020.7V249.8H1021.6V249.8H1022.5V249.8H1023.4V249.8H1024.3V249.8H1025.2V249.8H1026.1V249.8H1027.0V249.8H1027.9V249.8H1028.8V249.8H1029.7V249.8H1030.6V249.8H1031.5V249.8H1032.4V249.8H1033.3V249.8H1034.2V249.8H1035.1V249.8H1036.0V249.8H1036.9V249.8H1037.8V249.8H1038.7V249.8H1039.6V249.8H1040.5V249.8H1041.4V249.8H1042.3V249.8H1043.2V249.8H1044.1V249.8H1045.0V249.8H1045.9V249.8H1046.8V249.8H1047.7V249.8H1048.6V249.8H1049.5V249.8H1050.4V249.8H1051.3V249.8H1052.2V249.8H1053.1V249.8H1054.0V249.8H1054.9V249.8H1055.8V249.8H1056.7V249.8H1057.6V249.8H1058.5V249.8H1059.4V249.8H1060.3V249.5H1061.2V248.9H1062.1V248.4H1063.0V248.2H1063.9V248.3H1064.8V248.2H1065.7V248.1H1066.6V248.3H1067.5V249.2H1068.4V249.8H1069.3V249.8H1070.2V249.8H1071.1V249.8H1072.0V249.8H1072.9V249.8H1073.8V249.8H1074.7V249.8H1075.6V249.8H1076.5V249.8H1077.4V249.8H1078.0V249.8H1078.0L1078 250.9Z" fill="#2ca02c"/><rect x="583.3" y="234.00" width="8.1" height="1.9" fill="#f01ee0"/><rect x="901.9" y="234.00" width="0.9" height="1.9" fill="#f01ee0"/><path d="M119.8 285.7V284.6H120.7V284.6H121.6V284.6H122.5V284.6H123.4V284.6H124.3V284.6H125.2V284.6H126.1V284.6H127.0V284.6H127.9V284.6H128.8V284.6H129.7V284.6H130.6V284.6H131.5V284.6H132.4V284.6H133.3V284.6H134.2V284.6H135.1V284.6H136.0V284.6H136.9V284.6H137.8V284.6H138.7V284.6H139.6V284.6H140.5V284.6H141.4V284.6H142.3V284.6H143.2V284.6H144.1V284.6H145.0V284.6H145.9V284.6H146.8V284.6H147.7V284.6H148.6V284.6H149.5V284.6H150.4V284.6H151.3V284.6H152.2V284.6H153.1V284.6H154.0V284.6H154.9V284.6H155.8V284.6H156.7V284.6H157.6V284.6H158.5V284.6H159.4V284.6H160.3V284.6H161.2V284.6H162.1V284.6H163.0V284.6H163.9V284.6H164.8V284.6H165.7V284.6H166.6V284.6H167.5V284.6H168.4V284.6H169.3V284.6H170.2V284.6H171.1V284.6H172.0V284.6H172.9V284.6H173.8V284.6H174.7V284.6H175.6V284.6H176.5V284.6H177.4V284.6H178.3V284.6H179.2V284.6H180.1V284.6H181.0V284.6H181.9V284.6H182.8V284.6H183.7V284.6H184.6V284.6H185.5V284.6H186.4V284.6H187.3V284.6H188.2V284.6H189.1V284.6H190.0V284.6H190.9V284.6H191.8V284.6H192.7V284.6H193.6V284.6H194.5V284.6H195.4V284.6H196.3V284.6H197.2V284.6H198.1V284.6H199.0V284.6H199.9V284.6H200.8V284.6H201.7V284.6H202.6V284.6H203.5V284.6H204.4V284.6H205.3V284.6H206.2V284.6H207.1V284.6H208.0V284.6H208.9V284.6H209.8V284.6H210.7V284.6H211.6V284.6H212.5V284.6H213.4V284.6H214.3V284.6H215.2V284.6H216.1V284.6H217.0V284.6H217.9V284.6H218.8V284.6H219.7V284.6H220.6V284.6H221.5V284.6H222.4V284.6H223.3V284.6H224.2V284.6H225.1V284.6H226.0V284.6H226.9V284.6H227.8V284.6H228.7V284.6H229.6V284.6H230.5V284.6H231.4V284.6H232.3V284.6H233.2V284.6H234.1V284.6H235.0V284.6H235.9V284.6H236.8V284.6H237.7V284.6H238.6V284.6H239.5V284.6H240.4V284.6H241.3V284.6H242.2V284.6H243.1V284.6H244.0V284.6H244.9V284.6H245.8V284.6H246.7V284.6H247.6V284.6H248.5V284.6H249.4V284.6H250.3V284.6H251.2V284.6H252.1V284.6H253.0V284.6H253.9V284.6H254.8V284.6H255.7V284.6H256.6V284.6H257.5V284.6H258.4V284.6H259.3V284.6H260.2V284.6H261.1V284.6H262.0V284.6H262.9V284.6H263.8V284.6H264.7V284.6H265.6V284.6H266.5V284.6H267.4V284.6H268.3V284.6H269.2V284.6H270.1V284.6H271.0V284.6H271.9V284.6H272.8V284.6H273.7V284.6H274.6V284.6H275.5V284.6H276.4V284.6H277.3V284.6H278.2V284.6H279.1V284.6H280.0V284.6H280.9V284.6H281.8V284.6H282.7V284.6H283.6V284.6H284.5V284.6H285.4V284.6H286.3V284.6H287.2V284.6H288.1V284.6H289.0V284.6H289.9V284.6H290.8V284.6H291.7V284.6H292.6V284.6H293.5V284.6H294.4V284.6H295.3V284.6H296.2V284.6H297.1V284.6H298.0V284.6H298.9V284.6H299.8V284.6H300.7V284.6H301.6V284.6H302.5V284.6H303.4V284.6H304.3V284.6H305.2V284.6H306.1V284.6H307.0V284.6H307.9V284.6H308.8V284.6H309.7V284.6H310.6V284.6H311.5V284.6H312.4V284.6H313.3V284.6H314.2V284.6H315.1V284.6H316.0V284.6H316.9V284.6H317.8V284.6H318.7V284.6H319.6V284.6H320.5V284.4H321.4V283.8H322.3V283.4H323.2V283.6H324.1V283.7H325.0V283.7H325.9V284.1H326.8V284.5H327.7V284.6H328.6V284.6H329.5V284.6H330.4V284.6H331.3V284.6H332.2V284.6H333.1V284.6H334.0V284.6H334.9V284.6H335.8V284.6H336.7V284.6H337.6V284.6H338.5V284.6H339.4V284.6H340.3V284.6H341.2V284.6H342.1V284.6H343.0V284.6H343.9V284.6H344.8V284.6H345.7V284.6H346.6V284.6H347.5V284.6H348.4V284.6H349.3V284.6H350.2V284.6H351.1V284.6H352.0V284.6H352.9V284.6H353.8V284.6H354.7V284.6H355.6V284.6H356.5V284.6H357.4V284.6H358.3V284.6H359.2V284.6H360.1V284.6H361.0V284.6H361.9V284.6H362.8V284.6H363.7V284.6H364.6V284.6H365.5V284.6H366.4V284.6H367.3V284.6H368.2V284.6H369.1V284.6H370.0V284.6H370.9V284.6H371.8V284.6H372.7V284.6H373.6V284.6H374.5V284.6H375.4V284.6H376.3V284.6H377.2V284.6H378.1V284.6H379.0V284.6H379.9V284.6H380.8V284.6H381.7V284.6H382.6V284.6H383.5V284.6H384.4V284.6H385.3V284.4H386.2V284.0H387.1V283.5H388.0V282.8H388.9V283.3H389.8V283.5H390.7V283.9H391.6V283.6H392.5V283.6H393.4V283.6H394.3V284.0H395.2V283.7H396.1V283.8H397.0V284.2H397.9V284.0H398.8V284.4H399.7V284.5H400.6V284.6H401.5V284.6H402.4V284.6H403.3V284.6H404.2V284.6H405.1V284.6H406.0V284.6H406.9V284.6H407.8V284.6H408.7V284.6H409.6V284.6H410.5V284.6H411.4V284.6H412.3V284.6H413.2V284.6H414.1V284.6H415.0V284.6H415.9V284.6H416.8V284.6H417.7V284.6H418.6V284.6H419.5V284.6H420.4V284.6H421.3V284.6H422.2V284.6H423.1V284.6H424.0V284.6H424.9V284.6H425.8V284.6H426.7V284.6H427.6V284.6H428.5V284.6H429.4V284.6H430.3V284.6H431.2V284.6H432.1V284.6H433.0V284.6H433.9V284.6H434.8V284.6H435.7V284.6H436.6V284.4H437.5V284.0H438.4V284.2H439.3V283.6H440.2V283.8H441.1V283.7H442.0V283.4H442.9V283.5H443.8V283.9H444.7V283.7H445.6V283.7H446.5V283.8H447.4V283.9H448.3V283.8H449.2V283.6H450.1V284.0H451.0V283.7H451.9V283.7H452.8V284.0H453.7V283.8H454.6V283.6H455.5V283.7H456.4V284.0H457.3V283.4H458.2V283.5H459.1V283.4H460.0V283.9H460.9V283.8H461.8V284.0H462.7V283.5H463.6V283.8H464.5V283.9H465.4V283.7H466.3V283.5H467.2V283.5H468.1V283.8H469.0V283.9H469.9V283.4H470.8V283.7H471.7V283.6H472.6V284.0H473.5V284.0H474.4V283.7H475.3V283.8H476.2V284.1H477.1V283.6H478.0V283.8H478.9V283.7H479.8V284.1H480.7V283.7H481.6V284.1H482.5V283.6H483.4V283.9H484.3V283.9H485.2V283.8H486.1V283.5H487.0V283.9H487.9V284.0H488.8V283.7H489.7V283.9H490.6V283.9H491.5V283.9H492.4V283.9H493.3V283.8H494.2V283.7H495.1V283.7H496.0V283.4H496.9V283.7H497.8V283.5H498.7V283.7H499.6V283.6H500.5V283.7H501.4V283.4H502.3V283.4H503.2V282.7H504.1V282.6H505.0V282.5H505.9V281.8H506.8V280.7H507.7V281.4H508.6V280.1H509.5V280.3H510.4V280.0H511.3V279.3H512.2V279.6H513.1V279.4H514.0V279.1H514.9V278.6H515.8V279.4H516.7V279.1H517.6V279.7H518.5V280.3H519.4V281.2H520.3V282.0H521.2V283.0H522.1V283.5H523.0V283.5H523.9V283.0H524.8V283.4H525.7V283.2H526.6V283.0H527.5V282.0H528.4V282.0H529.3V282.7H530.2V283.5H531.1V283.9H532.0V284.0H532.9V284.0H533.8V284.3H534.7V284.2H535.6V284.3H536.5V284.0H537.4V284.0H538.3V284.2H539.2V284.3H540.1V284.0H541.0V284.3H541.9V284.3H542.8V284.4H543.7V284.3H544.6V284.2H545.5V284.2H546.4V284.3H547.3V284.2H548.2V284.4H549.1V284.3H550.0V284.4H550.9V284.2H551.8V284.4H552.7V284.4H553.6V284.3H554.5V284.3H555.4V284.0H556.3V283.8H557.2V283.4H558.1V283.2H559.0V282.8H559.9V282.4H560.8V282.7H561.7V282.6H562.6V281.8H563.5V282.5H564.4V281.7H565.3V281.7H566.2V282.3H567.1V281.3H568.0V281.2H568.9V281.4H569.8V281.2H570.7V281.0H571.6V281.8H572.5V281.1H573.4V281.0H574.3V280.5H575.2V280.4H576.1V280.2H577.0V279.9H577.9V279.1H578.8V279.0H579.7V278.6H580.6V273.1H581.5V269.1H582.4V269.1H583.3V269.1H584.2V269.1H585.1V269.1H586.0V269.1H586.9V269.1H587.8V269.1H588.7V269.1H589.6V269.1H590.5V269.1H591.4V269.1H592.3V272.8H593.2V275.8H594.1V277.4H595.0V279.7H595.9V279.8H596.8V280.4H597.7V280.5H598.6V280.7H599.5V280.8H600.4V281.3H601.3V282.0H602.2V281.1H603.1V281.3H604.0V281.7H604.9V281.7H605.8V281.7H606.7V282.5H607.6V281.9H608.5V282.5H609.4V282.8H610.3V282.7H611.2V282.4H612.1V283.0H613.0V282.5H613.9V282.3H614.8V282.7H615.7V282.8H616.6V282.7H617.5V282.5H618.4V282.4H619.3V282.4H620.2V282.3H621.1V282.7H622.0V282.6H622.9V282.7H623.8V282.5H624.7V283.1H625.6V283.1H626.5V283.6H627.4V283.6H628.3V283.6H629.2V283.4H630.1V283.4H631.0V283.5H631.9V283.8H632.8V283.7H633.7V283.8H634.6V283.9H635.5V284.1H636.4V283.8H637.3V284.2H638.2V283.9H639.1V283.9H640.0V284.4H640.9V284.2H641.8V284.3H642.7V284.3H643.6V284.3H644.5V284.4H645.4V284.4H646.3V284.4H647.2V284.5H648.1V284.5H649.0V284.5H649.9V284.5H650.8V284.6H651.7V284.6H652.6V284.6H653.5V284.6H654.4V284.6H655.3V284.6H656.2V284.6H657.1V284.6H658.0V284.6H658.9V284.6H659.8V284.6H660.7V284.6H661.6V284.6H662.5V284.6H663.4V284.6H664.3V284.6H665.2V284.6H666.1V284.6H667.0V284.6H667.9V284.6H668.8V284.6H669.7V284.6H670.6V284.6H671.5V284.6H672.4V284.6H673.3V284.6H674.2V284.6H675.1V284.6H676.0V284.6H676.9V284.6H677.8V284.6H678.7V284.6H679.6V284.6H680.5V284.4H681.4V284.0H682.3V283.6H683.2V283.8H684.1V284.1H685.0V284.3H685.9V284.5H686.8V284.6H687.7V284.6H688.6V284.6H689.5V284.6H690.4V284.6H691.3V284.6H692.2V284.6H693.1V284.6H694.0V284.6H694.9V284.6H695.8V284.6H696.7V284.6H697.6V284.6H698.5V284.6H699.4V284.6H700.3V284.6H701.2V284.6H702.1V284.6H703.0V284.6H703.9V284.6H704.8V284.6H705.7V284.6H706.6V284.6H707.5V284.6H708.4V284.6H709.3V284.6H710.2V284.6H711.1V284.6H712.0V284.6H712.9V284.6H713.8V284.6H714.7V284.6H715.6V284.6H716.5V284.6H717.4V284.6H718.3V284.6H719.2V284.6H720.1V284.6H721.0V284.6H721.9V284.6H722.8V284.6H723.7V284.6H724.6V284.6H725.5V284.6H726.4V284.6H727.3V284.6H728.2V284.6H729.1V284.6H730.0V284.6H730.9V284.6H731.8V284.6H732.7V284.6H733.6V284.6H734.5V284.6H735.4V284.6H736.3V284.6H737.2V284.6H738.1V284.6H739.0V284.6H739.9V284.6H740.8V284.6H741.7V284.6H742.6V284.6H743.5V284.6H744.4V284.6H745.3V284.6H746.2V284.6H747.1V284.6H748.0V284.6H748.9V284.6H749.8V284.6H750.7V284.6H751.6V284.6H752.5V284.6H753.4V284.6H754.3V284.6H755.2V284.6H756.1V284.6H757.0V284.6H757.9V284.6H758.8V284.6H759.7V284.6H760.6V284.6H761.5V284.6H762.4V284.6H763.3V284.6H764.2V284.6H765.1V284.6H766.0V284.6H766.9V284.6H767.8V284.6H768.7V284.6H769.6V284.6H770.5V284.6H771.4V284.6H772.3V284.6H773.2V284.6H774.1V284.6H775.0V284.6H775.9V284.6H776.8V284.6H777.7V284.6H778.6V284.6H779.5V284.6H780.4V284.6H781.3V284.6H782.2V284.6H783.1V284.6H784.0V284.6H784.9V284.6H785.8V284.6H786.7V284.6H787.6V284.6H788.5V284.6H789.4V284.6H790.3V284.6H791.2V284.6H792.1V284.6H793.0V284.6H793.9V284.6H794.8V284.6H795.7V284.6H796.6V284.6H797.5V284.6H798.4V284.6H799.3V284.6H800.2V284.6H801.1V284.6H802.0V284.6H802.9V284.6H803.8V284.6H804.7V284.6H805.6V284.6H806.5V284.6H807.4V284.6H808.3V284.6H809.2V284.6H810.1V284.5H811.0V284.4H811.9V284.3H812.8V284.3H813.7V283.9H814.6V284.1H815.5V283.8H816.4V284.1H817.3V283.8H818.2V283.6H819.1V284.0H820.0V283.6H820.9V283.7H821.8V283.5H822.7V283.6H823.6V283.8H824.5V283.4H825.4V283.6H826.3V283.9H827.2V283.9H828.1V283.6H829.0V283.6H829.9V283.6H830.8V283.7H831.7V283.5H832.6V283.5H833.5V283.1H834.4V283.7H835.3V283.1H836.2V283.0H837.1V283.5H838.0V282.9H838.9V283.0H839.8V282.8H840.7V283.2H841.6V283.1H842.5V283.1H843.4V282.6H844.3V282.9H845.2V283.0H846.1V282.8H847.0V282.8H847.9V282.9H848.8V282.8H849.7V281.9H850.6V282.3H851.5V281.3H852.4V281.2H853.3V280.2H854.2V277.7H855.1V275.5H856.0V272.0H856.9V269.1H857.8V269.1H858.7V269.1H859.6V269.1H860.5V269.1H861.4V269.1H862.3V269.1H863.2V269.1H864.1V269.1H865.0V269.1H865.9V272.1H866.8V274.4H867.7V276.4H868.6V277.8H869.5V279.1H870.4V281.0H871.3V282.2H872.2V283.6H873.1V284.0H874.0V284.6H874.9V284.6H875.8V284.6H876.7V284.6H877.6V284.6H878.5V284.6H879.4V284.6H880.3V284.6H881.2V284.6H882.1V284.6H883.0V284.6H883.9V284.6H884.8V284.6H885.7V284.4H886.6V284.2H887.5V283.9H888.4V283.7H889.3V283.8H890.2V284.0H891.1V283.4H892.0V283.9H892.9V283.3H893.8V283.0H894.7V280.8H895.6V276.2H896.5V272.0H897.4V269.1H898.3V269.1H899.2V269.1H900.1V269.1H901.0V269.1H901.9V269.1H902.8V269.1H903.7V269.1H904.6V269.1H905.5V269.1H906.4V269.1H907.3V269.1H908.2V269.1H909.1V271.6H910.0V274.8H910.9V278.1H911.8V279.8H912.7V282.1H913.6V282.4H914.5V282.4H915.4V282.4H916.3V281.7H917.2V282.2H918.1V282.5H919.0V281.8H919.9V281.8H920.8V282.3H921.7V282.6H922.6V282.5H923.5V282.5H924.4V282.2H925.3V282.5H926.2V282.2H927.1V282.2H928.0V282.0H928.9V281.8H929.8V282.1H930.7V282.6H931.6V282.7H932.5V282.6H933.4V282.5H934.3V282.4H935.2V282.5H936.1V282.1H937.0V281.1H937.9V282.3H938.8V282.1H939.7V282.2H940.6V282.2H941.5V283.0H942.4V283.1H943.3V283.0H944.2V282.8H945.1V282.6H946.0V282.1H946.9V281.9H947.8V281.6H948.7V282.3H949.6V282.0H950.5V280.9H951.4V280.8H952.3V281.8H953.2V282.0H954.1V283.0H955.0V283.0H955.9V282.8H956.8V283.1H957.7V283.4H958.6V283.6H959.5V284.2H960.4V284.4H961.3V284.3H962.2V284.4H963.1V284.4H964.0V284.5H964.9V284.5H965.8V284.6H966.7V284.6H967.6V284.6H968.5V284.6H969.4V284.6H970.3V284.6H971.2V284.6H972.1V284.6H973.0V284.6H973.9V284.6H974.8V284.6H975.7V284.6H976.6V284.6H977.5V284.6H978.4V284.6H979.3V284.6H980.2V284.6H981.1V284.6H982.0V284.6H982.9V284.6H983.8V284.6H984.7V284.6H985.6V284.6H986.5V284.6H987.4V284.6H988.3V284.6H989.2V284.6H990.1V284.6H991.0V284.6H991.9V284.6H992.8V284.6H993.7V284.6H994.6V284.6H995.5V284.6H996.4V284.6H997.3V284.6H998.2V284.6H999.1V284.6H1000.0V284.6H1000.9V284.6H1001.8V284.6H1002.7V284.6H1003.6V284.6H1004.5V284.6H1005.4V284.6H1006.3V284.6H1007.2V284.6H1008.1V284.6H1009.0V284.6H1009.9V284.6H1010.8V284.6H1011.7V284.6H1012.6V284.6H1013.5V284.6H1014.4V284.6H1015.3V284.6H1016.2V284.6H1017.1V284.6H1018.0V284.6H1018.9V284.6H1019.8V284.3H1020.7V283.6H1021.6V283.7H1022.5V284.3H1023.4V284.6H1024.3V284.6H1025.2V284.6H1026.1V284.6H1027.0V284.6H1027.9V284.6H1028.8V284.6H1029.7V284.6H1030.6V284.6H1031.5V284.6H1032.4V284.6H1033.3V284.6H1034.2V284.6H1035.1V284.6H1036.0V284.6H1036.9V284.6H1037.8V284.6H1038.7V284.6H1039.6V284.6H1040.5V284.6H1041.4V284.6H1042.3V284.6H1043.2V284.6H1044.1V284.6H1045.0V284.6H1045.9V284.6H1046.8V284.6H1047.7V284.6H1048.6V284.6H1049.5V284.6H1050.4V284.6H1051.3V284.6H1052.2V284.6H1053.1V284.6H1054.0V284.6H1054.9V284.6H1055.8V284.6H1056.7V284.6H1057.6V284.6H1058.5V284.3H1059.4V283.7H1060.3V283.4H1061.2V283.0H1062.1V282.7H1063.0V282.8H1063.9V282.5H1064.8V283.0H1065.7V282.5H1066.6V283.1H1067.5V282.8H1068.4V283.4H1069.3V284.0H1070.2V284.4H1071.1V284.4H1072.0V284.3H1072.9V284.3H1073.8V284.4H1074.7V284.4H1075.6V284.4H1076.5V284.5H1077.4V284.5H1078.0V284.6H1078.0L1078 285.7Z" fill="#f2761a"/><rect x="581.5" y="269.10" width="10.8" height="1.9" fill="#f01ee0"/><rect x="856.9" y="269.10" width="9.0" height="1.9" fill="#f01ee0"/><rect x="897.4" y="269.10" width="11.7" height="1.9" fill="#f01ee0"/><path d="M119.8 321.0V319.9H120.7V319.9H121.6V319.9H122.5V319.9H123.4V319.9H124.3V319.9H125.2V319.9H126.1V319.9H127.0V319.9H127.9V319.9H128.8V319.9H129.7V319.9H130.6V319.9H131.5V319.9H132.4V319.9H133.3V319.9H134.2V319.9H135.1V319.9H136.0V319.9H136.9V319.9H137.8V319.9H138.7V319.9H139.6V319.9H140.5V319.9H141.4V319.9H142.3V319.9H143.2V319.9H144.1V319.9H145.0V319.9H145.9V319.9H146.8V319.9H147.7V319.9H148.6V319.9H149.5V319.9H150.4V319.9H151.3V319.9H152.2V319.9H153.1V319.9H154.0V319.9H154.9V319.9H155.8V319.9H156.7V319.9H157.6V319.9H158.5V319.9H159.4V319.9H160.3V319.9H161.2V319.9H162.1V319.9H163.0V319.9H163.9V319.9H164.8V319.9H165.7V319.9H166.6V319.9H167.5V319.9H168.4V319.9H169.3V319.9H170.2V319.9H171.1V319.9H172.0V319.9H172.9V319.9H173.8V319.9H174.7V319.9H175.6V319.9H176.5V319.9H177.4V319.9H178.3V319.9H179.2V319.9H180.1V319.9H181.0V319.9H181.9V319.9H182.8V319.9H183.7V319.9H184.6V319.9H185.5V319.9H186.4V319.9H187.3V319.9H188.2V319.9H189.1V319.9H190.0V319.9H190.9V319.9H191.8V319.9H192.7V319.9H193.6V319.9H194.5V319.9H195.4V319.9H196.3V319.9H197.2V319.9H198.1V319.9H199.0V319.9H199.9V319.9H200.8V319.9H201.7V319.9H202.6V319.9H203.5V319.9H204.4V319.9H205.3V319.9H206.2V319.9H207.1V319.9H208.0V319.9H208.9V319.9H209.8V319.9H210.7V319.9H211.6V319.9H212.5V319.9H213.4V319.9H214.3V319.9H215.2V319.9H216.1V319.9H217.0V319.9H217.9V319.9H218.8V319.9H219.7V319.9H220.6V319.9H221.5V319.9H222.4V319.9H223.3V319.9H224.2V319.9H225.1V319.9H226.0V319.9H226.9V319.9H227.8V319.9H228.7V319.9H229.6V319.9H230.5V319.9H231.4V319.9H232.3V319.9H233.2V319.9H234.1V319.9H235.0V319.9H235.9V319.9H236.8V319.9H237.7V319.9H238.6V319.9H239.5V319.9H240.4V319.9H241.3V319.9H242.2V319.9H243.1V319.9H244.0V319.9H244.9V319.9H245.8V319.9H246.7V319.9H247.6V319.9H248.5V319.9H249.4V319.9H250.3V319.9H251.2V319.9H252.1V319.9H253.0V319.9H253.9V319.9H254.8V319.9H255.7V319.9H256.6V319.9H257.5V319.9H258.4V319.9H259.3V319.9H260.2V319.9H261.1V319.9H262.0V319.9H262.9V319.2H263.8V318.5H264.7V318.7H265.6V318.7H266.5V318.2H267.4V318.5H268.3V319.3H269.2V319.9H270.1V319.9H271.0V319.9H271.9V319.9H272.8V319.9H273.7V319.9H274.6V319.9H275.5V319.9H276.4V319.9H277.3V319.9H278.2V319.9H279.1V319.9H280.0V319.9H280.9V319.9H281.8V319.9H282.7V319.9H283.6V319.9H284.5V319.9H285.4V319.9H286.3V319.9H287.2V319.9H288.1V319.9H289.0V319.9H289.9V319.9H290.8V319.9H291.7V319.9H292.6V319.9H293.5V319.9H294.4V319.9H295.3V319.9H296.2V319.9H297.1V319.9H298.0V319.9H298.9V319.9H299.8V319.9H300.7V319.9H301.6V319.9H302.5V319.9H303.4V319.9H304.3V319.9H305.2V319.9H306.1V319.8H307.0V319.6H307.9V319.5H308.8V319.0H309.7V319.3H310.6V319.1H311.5V319.0H312.4V318.7H313.3V318.9H314.2V318.8H315.1V319.3H316.0V319.6H316.9V319.8H317.8V319.9H318.7V319.9H319.6V319.9H320.5V319.9H321.4V319.9H322.3V319.9H323.2V319.9H324.1V319.9H325.0V319.9H325.9V319.9H326.8V319.9H327.7V319.9H328.6V319.9H329.5V319.9H330.4V319.9H331.3V319.9H332.2V319.9H333.1V319.9H334.0V319.9H334.9V319.9H335.8V319.9H336.7V319.9H337.6V319.9H338.5V319.9H339.4V319.9H340.3V319.9H341.2V319.9H342.1V319.9H343.0V319.9H343.9V319.9H344.8V319.9H345.7V319.9H346.6V319.9H347.5V319.9H348.4V319.9H349.3V319.9H350.2V319.9H351.1V319.9H352.0V319.9H352.9V319.9H353.8V319.9H354.7V319.9H355.6V319.9H356.5V319.9H357.4V319.9H358.3V319.9H359.2V319.9H360.1V319.9H361.0V319.9H361.9V319.9H362.8V319.9H363.7V319.9H364.6V319.9H365.5V319.9H366.4V319.9H367.3V319.9H368.2V319.9H369.1V319.9H370.0V319.9H370.9V319.9H371.8V319.9H372.7V319.9H373.6V319.9H374.5V319.9H375.4V319.9H376.3V319.9H377.2V319.9H378.1V319.9H379.0V319.9H379.9V319.9H380.8V319.9H381.7V319.9H382.6V319.9H383.5V319.6H384.4V319.2H385.3V318.8H386.2V317.8H387.1V318.1H388.0V318.6H388.9V318.9H389.8V318.8H390.7V319.0H391.6V319.4H392.5V319.6H393.4V319.4H394.3V319.2H395.2V319.5H396.1V319.5H397.0V319.3H397.9V319.2H398.8V319.2H399.7V319.6H400.6V319.6H401.5V319.8H402.4V319.9H403.3V319.9H404.2V319.9H405.1V319.9H406.0V319.9H406.9V319.9H407.8V319.9H408.7V319.9H409.6V319.9H410.5V319.9H411.4V319.9H412.3V319.9H413.2V319.9H414.1V319.9H415.0V319.9H415.9V319.9H416.8V319.9H417.7V319.9H418.6V319.9H419.5V319.9H420.4V319.9H421.3V319.9H422.2V319.9H423.1V319.9H424.0V319.9H424.9V319.9H425.8V319.9H426.7V319.9H427.6V319.9H428.5V319.9H429.4V319.9H430.3V319.8H431.2V319.8H432.1V319.7H433.0V319.7H433.9V319.6H434.8V319.4H435.7V319.4H436.6V319.4H437.5V319.5H438.4V319.1H439.3V319.3H440.2V319.0H441.1V319.3H442.0V319.4H442.9V319.1H443.8V319.3H444.7V319.0H445.6V319.2H446.5V319.4H447.4V319.3H448.3V319.2H449.2V319.1H450.1V319.0H451.0V319.4H451.9V319.3H452.8V319.4H453.7V318.9H454.6V319.4H455.5V319.4H456.4V319.4H457.3V319.3H458.2V319.0H459.1V319.0H460.0V319.1H460.9V318.9H461.8V318.9H462.7V319.2H463.6V319.3H464.5V318.9H465.4V319.0H466.3V319.3H467.2V319.0H468.1V319.1H469.0V319.1H469.9V319.1H470.8V319.2H471.7V319.4H472.6V319.3H473.5V319.3H474.4V319.0H475.3V319.5H476.2V319.2H477.1V319.6H478.0V319.6H478.9V319.3H479.8V319.3H480.7V319.4H481.6V319.5H482.5V319.3H483.4V319.3H484.3V319.0H485.2V319.4H486.1V319.3H487.0V319.0H487.9V319.5H488.8V319.2H489.7V319.0H490.6V319.1H491.5V319.4H492.4V319.5H493.3V319.4H494.2V319.0H495.1V319.3H496.0V319.1H496.9V319.0H497.8V319.3H498.7V319.3H499.6V319.0H500.5V319.1H501.4V319.3H502.3V319.1H503.2V319.3H504.1V319.3H505.0V319.5H505.9V318.9H506.8V318.6H507.7V318.6H508.6V318.2H509.5V318.8H510.4V318.5H511.3V318.1H512.2V317.5H513.1V317.4H514.0V318.0H514.9V318.2H515.8V318.1H516.7V318.1H517.6V317.8H518.5V318.7H519.4V318.6H520.3V319.1H521.2V319.3H522.1V319.3H523.0V319.3H523.9V319.4H524.8V319.4H525.7V319.3H526.6V318.9H527.5V319.1H528.4V318.9H529.3V318.4H530.2V319.1H531.1V319.4H532.0V319.7H532.9V319.5H533.8V319.6H534.7V319.3H535.6V319.3H536.5V319.3H537.4V319.6H538.3V319.7H539.2V319.7H540.1V319.5H541.0V319.4H541.9V319.5H542.8V319.6H543.7V319.5H544.6V319.4H545.5V319.4H546.4V319.4H547.3V319.3H548.2V319.4H549.1V319.7H550.0V319.3H550.9V319.6H551.8V319.5H552.7V319.6H553.6V319.4H554.5V319.6H555.4V319.6H556.3V319.6H557.2V319.7H558.1V319.3H559.0V319.5H559.9V319.6H560.8V319.5H561.7V319.1H562.6V319.2H563.5V319.3H564.4V318.9H565.3V318.9H566.2V318.5H567.1V319.0H568.0V318.6H568.9V318.3H569.8V317.7H570.7V316.9H571.6V317.4H572.5V316.3H573.4V315.6H574.3V314.6H575.2V313.1H576.1V313.2H577.0V312.4H577.9V311.4H578.8V308.9H579.7V305.2H580.6V304.2H581.5V304.2H582.4V304.2H583.3V304.2H584.2V304.2H585.1V304.2H586.0V306.3H586.9V310.2H587.8V312.7H588.7V314.7H589.6V315.0H590.5V315.5H591.4V316.2H592.3V316.3H593.2V316.8H594.1V316.9H595.0V316.7H595.9V316.0H596.8V315.8H597.7V316.3H598.6V316.6H599.5V316.5H600.4V316.3H601.3V317.2H602.2V317.2H603.1V317.5H604.0V316.9H604.9V317.3H605.8V317.9H606.7V318.3H607.6V318.5H608.5V318.9H609.4V319.1H610.3V319.4H611.2V319.4H612.1V319.1H613.0V319.2H613.9V319.3H614.8V319.3H615.7V319.0H616.6V319.3H617.5V319.2H618.4V319.3H619.3V319.2H620.2V319.0H621.1V318.9H622.0V319.2H622.9V319.3H623.8V319.0H624.7V319.3H625.6V319.4H626.5V318.8H627.4V319.1H628.3V318.8H629.2V319.1H630.1V318.8H631.0V319.1H631.9V319.3H632.8V319.4H633.7V319.2H634.6V319.2H635.5V319.1H636.4V319.5H637.3V319.3H638.2V319.5H639.1V319.5H640.0V319.7H640.9V319.6H641.8V319.5H642.7V319.3H643.6V319.7H644.5V319.5H645.4V319.4H646.3V319.3H647.2V319.6H648.1V319.7H649.0V319.3H649.9V319.3H650.8V319.5H651.7V319.7H652.6V319.3H653.5V319.6H654.4V319.3H655.3V319.4H656.2V319.4H657.1V319.7H658.0V319.4H658.9V319.6H659.8V319.5H660.7V319.4H661.6V319.4H662.5V319.7H663.4V319.7H664.3V319.6H665.2V319.5H666.1V319.6H667.0V319.6H667.9V319.6H668.8V319.6H669.7V319.6H670.6V319.6H671.5V319.6H672.4V319.6H673.3V319.6H674.2V319.6H675.1V319.6H676.0V319.6H676.9V319.6H677.8V319.7H678.7V319.7H679.6V319.7H680.5V319.7H681.4V319.7H682.3V319.7H683.2V319.7H684.1V319.7H685.0V319.7H685.9V319.7H686.8V319.7H687.7V319.7H688.6V319.8H689.5V319.8H690.4V319.8H691.3V319.8H692.2V319.8H693.1V319.8H694.0V319.8H694.9V319.8H695.8V319.8H696.7V319.8H697.6V319.8H698.5V319.8H699.4V319.8H700.3V319.9H701.2V319.9H702.1V319.9H703.0V319.9H703.9V319.9H704.8V319.9H705.7V319.9H706.6V319.9H707.5V319.9H708.4V319.9H709.3V319.9H710.2V319.9H711.1V319.9H712.0V319.9H712.9V319.9H713.8V319.9H714.7V319.9H715.6V319.9H716.5V319.9H717.4V319.9H718.3V319.9H719.2V319.9H720.1V319.9H721.0V319.9H721.9V319.9H722.8V319.9H723.7V319.9H724.6V319.9H725.5V319.9H726.4V319.9H727.3V319.9H728.2V319.9H729.1V319.9H730.0V319.9H730.9V319.9H731.8V319.9H732.7V319.9H733.6V319.9H734.5V319.9H735.4V319.9H736.3V319.9H737.2V319.9H738.1V319.9H739.0V319.9H739.9V319.9H740.8V319.9H741.7V319.9H742.6V319.9H743.5V319.9H744.4V319.9H745.3V319.9H746.2V319.9H747.1V319.9H748.0V319.9H748.9V319.9H749.8V319.9H750.7V319.9H751.6V319.9H752.5V319.9H753.4V319.9H754.3V319.9H755.2V319.9H756.1V319.9H757.0V319.9H757.9V319.9H758.8V319.9H759.7V319.9H760.6V319.9H761.5V319.9H762.4V319.9H763.3V319.9H764.2V319.9H765.1V319.9H766.0V319.9H766.9V319.9H767.8V319.9H768.7V319.9H769.6V319.9H770.5V319.9H771.4V319.9H772.3V319.9H773.2V319.9H774.1V319.9H775.0V319.9H775.9V319.9H776.8V319.9H777.7V319.9H778.6V319.9H779.5V319.9H780.4V319.9H781.3V319.9H782.2V319.9H783.1V319.9H784.0V319.9H784.9V319.9H785.8V319.9H786.7V319.9H787.6V319.9H788.5V319.9H789.4V319.9H790.3V319.9H791.2V319.9H792.1V319.9H793.0V319.9H793.9V319.9H794.8V319.9H795.7V319.9H796.6V319.9H797.5V319.9H798.4V319.9H799.3V319.9H800.2V319.9H801.1V319.9H802.0V319.9H802.9V319.9H803.8V319.9H804.7V319.9H805.6V319.9H806.5V319.9H807.4V319.9H808.3V319.9H809.2V319.9H810.1V319.9H811.0V319.9H811.9V319.9H812.8V319.9H813.7V319.9H814.6V319.9H815.5V319.9H816.4V319.9H817.3V319.9H818.2V319.9H819.1V319.9H820.0V319.9H820.9V319.9H821.8V319.9H822.7V319.9H823.6V319.9H824.5V319.9H825.4V319.9H826.3V319.9H827.2V319.8H828.1V319.6H829.0V319.5H829.9V319.4H830.8V319.1H831.7V318.5H832.6V318.0H833.5V318.6H834.4V318.2H835.3V318.1H836.2V318.8H837.1V318.2H838.0V318.8H838.9V318.3H839.8V318.2H840.7V318.1H841.6V318.2H842.5V317.9H843.4V317.6H844.3V317.5H845.2V317.0H846.1V317.1H847.0V317.0H847.9V317.4H848.8V316.5H849.7V316.6H850.6V316.7H851.5V315.8H852.4V315.5H853.3V315.7H854.2V315.8H855.1V315.1H856.0V315.1H856.9V314.7H857.8V314.2H858.7V314.9H859.6V314.7H860.5V314.8H861.4V315.6H862.3V314.8H863.2V315.6H864.1V314.7H865.0V310.9H865.9V311.3H866.8V311.9H867.7V311.3H868.6V311.5H869.5V310.7H870.4V311.8H871.3V310.8H872.2V315.1H873.1V318.3H874.0V318.8H874.9V319.2H875.8V318.8H876.7V319.1H877.6V318.9H878.5V318.9H879.4V319.4H880.3V319.0H881.2V318.8H882.1V319.3H883.0V319.0H883.9V318.6H884.8V319.1H885.7V318.6H886.6V319.0H887.5V318.7H888.4V319.2H889.3V318.9H890.2V318.3H891.1V318.5H892.0V318.2H892.9V317.4H893.8V317.1H894.7V316.9H895.6V316.2H896.5V315.3H897.4V313.0H898.3V312.0H899.2V310.6H900.1V310.5H901.0V308.6H901.9V310.2H902.8V310.3H903.7V310.1H904.6V310.3H905.5V310.7H906.4V313.4H907.3V315.0H908.2V315.1H909.1V316.6H910.0V315.8H910.9V316.8H911.8V317.5H912.7V317.6H913.6V318.2H914.5V317.6H915.4V317.9H916.3V318.1H917.2V317.8H918.1V318.0H919.0V318.3H919.9V317.7H920.8V318.3H921.7V317.5H922.6V318.1H923.5V317.2H924.4V315.9H925.3V315.8H926.2V315.5H927.1V315.8H928.0V316.3H928.9V316.4H929.8V316.4H930.7V317.6H931.6V318.5H932.5V318.2H933.4V317.8H934.3V317.7H935.2V315.8H936.1V314.9H937.0V315.4H937.9V315.5H938.8V315.1H939.7V315.5H940.6V317.6H941.5V318.0H942.4V317.6H943.3V317.6H944.2V317.9H945.1V317.5H946.0V317.6H946.9V317.9H947.8V317.1H948.7V317.9H949.6V318.0H950.5V318.2H951.4V317.7H952.3V317.5H953.2V317.7H954.1V318.3H955.0V318.7H955.9V319.3H956.8V319.1H957.7V319.5H958.6V319.7H959.5V319.9H960.4V319.9H961.3V319.9H962.2V319.9H963.1V319.9H964.0V319.9H964.9V319.9H965.8V319.9H966.7V319.3H967.6V318.9H968.5V319.0H969.4V318.7H970.3V318.8H971.2V319.1H972.1V318.6H973.0V319.1H973.9V318.8H974.8V318.9H975.7V319.0H976.6V319.1H977.5V318.6H978.4V319.1H979.3V318.8H980.2V318.5H981.1V319.2H982.0V319.3H982.9V319.1H983.8V319.3H984.7V319.4H985.6V319.3H986.5V319.5H987.4V319.4H988.3V319.3H989.2V319.3H990.1V318.8H991.0V319.1H991.9V319.4H992.8V319.8H993.7V319.9H994.6V319.9H995.5V319.9H996.4V319.9H997.3V319.9H998.2V319.9H999.1V319.9H1000.0V319.9H1000.9V319.9H1001.8V319.9H1002.7V319.9H1003.6V319.9H1004.5V319.9H1005.4V319.9H1006.3V319.9H1007.2V319.9H1008.1V319.9H1009.0V319.9H1009.9V319.9H1010.8V319.9H1011.7V319.9H1012.6V319.9H1013.5V319.9H1014.4V319.9H1015.3V319.7H1016.2V319.6H1017.1V318.7H1018.0V318.3H1018.9V318.5H1019.8V318.2H1020.7V318.3H1021.6V318.5H1022.5V318.9H1023.4V319.5H1024.3V319.9H1025.2V319.9H1026.1V319.9H1027.0V319.9H1027.9V319.9H1028.8V319.9H1029.7V319.9H1030.6V319.9H1031.5V319.9H1032.4V319.9H1033.3V319.9H1034.2V319.9H1035.1V319.9H1036.0V319.9H1036.9V319.9H1037.8V319.9H1038.7V319.9H1039.6V319.9H1040.5V319.9H1041.4V319.9H1042.3V319.9H1043.2V319.9H1044.1V319.9H1045.0V319.9H1045.9V319.9H1046.8V319.9H1047.7V319.9H1048.6V319.9H1049.5V319.9H1050.4V319.9H1051.3V319.9H1052.2V319.9H1053.1V319.9H1054.0V319.9H1054.9V319.9H1055.8V319.9H1056.7V319.6H1057.6V319.5H1058.5V319.0H1059.4V318.5H1060.3V318.4H1061.2V318.1H1062.1V318.1H1063.0V318.3H1063.9V318.0H1064.8V318.2H1065.7V318.0H1066.6V318.3H1067.5V318.6H1068.4V318.7H1069.3V319.2H1070.2V319.9H1071.1V319.9H1072.0V319.9H1072.9V319.9H1073.8V319.9H1074.7V319.9H1075.6V319.9H1076.5V319.9H1077.4V319.9H1078.0V319.9H1078.0L1078 321.0Z" fill="#8c1a1c"/><rect x="580.6" y="304.20" width="5.4" height="1.9" fill="#f01ee0"/><path d="M119.8 356.1V355.0H120.7V355.0H121.6V355.0H122.5V355.0H123.4V355.0H124.3V355.0H125.2V355.0H126.1V355.0H127.0V355.0H127.9V355.0H128.8V355.0H129.7V355.0H130.6V355.0H131.5V355.0H132.4V355.0H133.3V355.0H134.2V355.0H135.1V355.0H136.0V355.0H136.9V355.0H137.8V355.0H138.7V355.0H139.6V355.0H140.5V355.0H141.4V355.0H142.3V355.0H143.2V355.0H144.1V355.0H145.0V355.0H145.9V355.0H146.8V355.0H147.7V355.0H148.6V355.0H149.5V355.0H150.4V355.0H151.3V355.0H152.2V355.0H153.1V355.0H154.0V355.0H154.9V355.0H155.8V355.0H156.7V355.0H157.6V355.0H158.5V355.0H159.4V355.0H160.3V355.0H161.2V355.0H162.1V355.0H163.0V355.0H163.9V355.0H164.8V355.0H165.7V355.0H166.6V355.0H167.5V355.0H168.4V355.0H169.3V355.0H170.2V355.0H171.1V355.0H172.0V355.0H172.9V355.0H173.8V355.0H174.7V355.0H175.6V355.0H176.5V355.0H177.4V355.0H178.3V355.0H179.2V355.0H180.1V355.0H181.0V355.0H181.9V355.0H182.8V355.0H183.7V355.0H184.6V355.0H185.5V355.0H186.4V355.0H187.3V355.0H188.2V355.0H189.1V355.0H190.0V355.0H190.9V355.0H191.8V355.0H192.7V355.0H193.6V355.0H194.5V355.0H195.4V355.0H196.3V355.0H197.2V355.0H198.1V355.0H199.0V355.0H199.9V355.0H200.8V355.0H201.7V355.0H202.6V355.0H203.5V355.0H204.4V355.0H205.3V355.0H206.2V355.0H207.1V355.0H208.0V355.0H208.9V355.0H209.8V355.0H210.7V355.0H211.6V355.0H212.5V355.0H213.4V355.0H214.3V355.0H215.2V355.0H216.1V355.0H217.0V355.0H217.9V355.0H218.8V355.0H219.7V355.0H220.6V355.0H221.5V355.0H222.4V355.0H223.3V355.0H224.2V355.0H225.1V355.0H226.0V355.0H226.9V355.0H227.8V355.0H228.7V355.0H229.6V355.0H230.5V355.0H231.4V355.0H232.3V355.0H233.2V355.0H234.1V355.0H235.0V355.0H235.9V355.0H236.8V355.0H237.7V355.0H238.6V355.0H239.5V355.0H240.4V355.0H241.3V355.0H242.2V355.0H243.1V355.0H244.0V355.0H244.9V355.0H245.8V355.0H246.7V355.0H247.6V355.0H248.5V355.0H249.4V355.0H250.3V355.0H251.2V355.0H252.1V355.0H253.0V355.0H253.9V355.0H254.8V355.0H255.7V355.0H256.6V355.0H257.5V355.0H258.4V355.0H259.3V355.0H260.2V355.0H261.1V355.0H262.0V355.0H262.9V355.0H263.8V355.0H264.7V355.0H265.6V355.0H266.5V355.0H267.4V355.0H268.3V355.0H269.2V355.0H270.1V355.0H271.0V355.0H271.9V355.0H272.8V355.0H273.7V355.0H274.6V355.0H275.5V355.0H276.4V355.0H277.3V355.0H278.2V355.0H279.1V355.0H280.0V355.0H280.9V355.0H281.8V355.0H282.7V355.0H283.6V355.0H284.5V355.0H285.4V355.0H286.3V355.0H287.2V355.0H288.1V355.0H289.0V355.0H289.9V355.0H290.8V355.0H291.7V355.0H292.6V355.0H293.5V355.0H294.4V355.0H295.3V355.0H296.2V355.0H297.1V355.0H298.0V355.0H298.9V355.0H299.8V355.0H300.7V355.0H301.6V355.0H302.5V355.0H303.4V355.0H304.3V355.0H305.2V355.0H306.1V355.0H307.0V355.0H307.9V355.0H308.8V355.0H309.7V355.0H310.6V355.0H311.5V355.0H312.4V355.0H313.3V355.0H314.2V355.0H315.1V355.0H316.0V355.0H316.9V355.0H317.8V355.0H318.7V355.0H319.6V355.0H320.5V355.0H321.4V355.0H322.3V355.0H323.2V355.0H324.1V355.0H325.0V355.0H325.9V355.0H326.8V355.0H327.7V355.0H328.6V355.0H329.5V355.0H330.4V355.0H331.3V355.0H332.2V355.0H333.1V355.0H334.0V355.0H334.9V355.0H335.8V355.0H336.7V355.0H337.6V355.0H338.5V355.0H339.4V355.0H340.3V355.0H341.2V355.0H342.1V355.0H343.0V355.0H343.9V355.0H344.8V355.0H345.7V355.0H346.6V355.0H347.5V355.0H348.4V355.0H349.3V355.0H350.2V355.0H351.1V355.0H352.0V355.0H352.9V355.0H353.8V355.0H354.7V355.0H355.6V355.0H356.5V355.0H357.4V355.0H358.3V355.0H359.2V355.0H360.1V355.0H361.0V355.0H361.9V355.0H362.8V355.0H363.7V355.0H364.6V355.0H365.5V355.0H366.4V355.0H367.3V355.0H368.2V355.0H369.1V355.0H370.0V355.0H370.9V355.0H371.8V355.0H372.7V355.0H373.6V355.0H374.5V355.0H375.4V355.0H376.3V355.0H377.2V355.0H378.1V355.0H379.0V355.0H379.9V355.0H380.8V355.0H381.7V355.0H382.6V355.0H383.5V355.0H384.4V355.0H385.3V355.0H386.2V354.9H387.1V354.6H388.0V353.9H388.9V354.6H389.8V354.6H390.7V354.7H391.6V354.9H392.5V355.0H393.4V355.0H394.3V355.0H395.2V355.0H396.1V355.0H397.0V355.0H397.9V355.0H398.8V355.0H399.7V355.0H400.6V355.0H401.5V355.0H402.4V355.0H403.3V355.0H404.2V355.0H405.1V355.0H406.0V355.0H406.9V355.0H407.8V355.0H408.7V355.0H409.6V355.0H410.5V355.0H411.4V355.0H412.3V355.0H413.2V355.0H414.1V355.0H415.0V355.0H415.9V355.0H416.8V355.0H417.7V355.0H418.6V355.0H419.5V355.0H420.4V355.0H421.3V355.0H422.2V355.0H423.1V355.0H424.0V355.0H424.9V355.0H425.8V355.0H426.7V355.0H427.6V355.0H428.5V355.0H429.4V355.0H430.3V355.0H431.2V355.0H432.1V355.0H433.0V355.0H433.9V355.0H434.8V355.0H435.7V355.0H436.6V355.0H437.5V355.0H438.4V355.0H439.3V355.0H440.2V355.0H441.1V355.0H442.0V355.0H442.9V355.0H443.8V355.0H444.7V355.0H445.6V355.0H446.5V355.0H447.4V355.0H448.3V355.0H449.2V355.0H450.1V355.0H451.0V355.0H451.9V355.0H452.8V355.0H453.7V355.0H454.6V355.0H455.5V355.0H456.4V355.0H457.3V355.0H458.2V355.0H459.1V355.0H460.0V355.0H460.9V355.0H461.8V355.0H462.7V355.0H463.6V355.0H464.5V355.0H465.4V355.0H466.3V355.0H467.2V355.0H468.1V355.0H469.0V355.0H469.9V355.0H470.8V355.0H471.7V355.0H472.6V355.0H473.5V355.0H474.4V355.0H475.3V355.0H476.2V355.0H477.1V355.0H478.0V355.0H478.9V355.0H479.8V355.0H480.7V355.0H481.6V355.0H482.5V355.0H483.4V355.0H484.3V355.0H485.2V355.0H486.1V355.0H487.0V355.0H487.9V355.0H488.8V355.0H489.7V355.0H490.6V355.0H491.5V355.0H492.4V355.0H493.3V355.0H494.2V355.0H495.1V355.0H496.0V355.0H496.9V355.0H497.8V355.0H498.7V355.0H499.6V355.0H500.5V355.0H501.4V355.0H502.3V355.0H503.2V355.0H504.1V355.0H505.0V355.0H505.9V355.0H506.8V355.0H507.7V355.0H508.6V355.0H509.5V355.0H510.4V355.0H511.3V355.0H512.2V355.0H513.1V355.0H514.0V355.0H514.9V355.0H515.8V355.0H516.7V355.0H517.6V355.0H518.5V355.0H519.4V355.0H520.3V355.0H521.2V355.0H522.1V355.0H523.0V355.0H523.9V355.0H524.8V355.0H525.7V355.0H526.6V355.0H527.5V355.0H528.4V355.0H529.3V355.0H530.2V355.0H531.1V355.0H532.0V355.0H532.9V355.0H533.8V355.0H534.7V355.0H535.6V355.0H536.5V355.0H537.4V355.0H538.3V355.0H539.2V355.0H540.1V355.0H541.0V355.0H541.9V355.0H542.8V355.0H543.7V355.0H544.6V355.0H545.5V355.0H546.4V355.0H547.3V355.0H548.2V355.0H549.1V355.0H550.0V355.0H550.9V355.0H551.8V355.0H552.7V355.0H553.6V355.0H554.5V355.0H555.4V355.0H556.3V355.0H557.2V355.0H558.1V354.9H559.0V354.9H559.9V354.8H560.8V354.7H561.7V354.7H562.6V354.4H563.5V354.2H564.4V354.2H565.3V354.4H566.2V354.1H567.1V354.3H568.0V354.4H568.9V354.0H569.8V354.1H570.7V354.0H571.6V354.0H572.5V353.7H573.4V353.8H574.3V353.3H575.2V353.1H576.1V352.6H577.0V351.9H577.9V350.4H578.8V349.5H579.7V348.7H580.6V347.6H581.5V345.8H582.4V345.2H583.3V342.8H584.2V342.4H585.1V341.1H586.0V339.2H586.9V339.2H587.8V341.1H588.7V341.9H589.6V344.5H590.5V346.6H591.4V348.5H592.3V350.2H593.2V350.6H594.1V352.0H595.0V352.1H595.9V352.2H596.8V353.1H597.7V352.8H598.6V353.1H599.5V352.6H600.4V352.7H601.3V352.6H602.2V353.4H603.1V352.7H604.0V352.7H604.9V352.8H605.8V353.6H606.7V353.6H607.6V353.7H608.5V353.8H609.4V353.3H610.3V353.4H611.2V353.6H612.1V353.6H613.0V353.9H613.9V354.2H614.8V354.4H615.7V354.5H616.6V354.2H617.5V354.5H618.4V354.5H619.3V354.4H620.2V354.7H621.1V354.6H622.0V354.6H622.9V354.4H623.8V354.6H624.7V354.6H625.6V354.4H626.5V354.6H627.4V354.7H628.3V354.8H629.2V354.9H630.1V355.0H631.0V355.0H631.9V355.0H632.8V355.0H633.7V355.0H634.6V355.0H635.5V355.0H636.4V355.0H637.3V355.0H638.2V355.0H639.1V355.0H640.0V355.0H640.9V355.0H641.8V355.0H642.7V355.0H643.6V355.0H644.5V355.0H645.4V355.0H646.3V355.0H647.2V355.0H648.1V355.0H649.0V355.0H649.9V355.0H650.8V355.0H651.7V355.0H652.6V355.0H653.5V355.0H654.4V355.0H655.3V355.0H656.2V355.0H657.1V355.0H658.0V355.0H658.9V355.0H659.8V355.0H660.7V355.0H661.6V355.0H662.5V355.0H663.4V355.0H664.3V355.0H665.2V355.0H666.1V355.0H667.0V355.0H667.9V355.0H668.8V355.0H669.7V355.0H670.6V355.0H671.5V355.0H672.4V355.0H673.3V355.0H674.2V355.0H675.1V355.0H676.0V355.0H676.9V355.0H677.8V355.0H678.7V355.0H679.6V355.0H680.5V355.0H681.4V355.0H682.3V355.0H683.2V355.0H684.1V355.0H685.0V355.0H685.9V355.0H686.8V355.0H687.7V355.0H688.6V355.0H689.5V355.0H690.4V355.0H691.3V355.0H692.2V355.0H693.1V355.0H694.0V355.0H694.9V355.0H695.8V355.0H696.7V355.0H697.6V355.0H698.5V355.0H699.4V355.0H700.3V355.0H701.2V355.0H702.1V355.0H703.0V355.0H703.9V355.0H704.8V355.0H705.7V355.0H706.6V355.0H707.5V355.0H708.4V355.0H709.3V355.0H710.2V355.0H711.1V355.0H712.0V355.0H712.9V355.0H713.8V355.0H714.7V355.0H715.6V355.0H716.5V355.0H717.4V355.0H718.3V355.0H719.2V355.0H720.1V355.0H721.0V355.0H721.9V355.0H722.8V355.0H723.7V355.0H724.6V355.0H725.5V355.0H726.4V355.0H727.3V355.0H728.2V355.0H729.1V355.0H730.0V355.0H730.9V355.0H731.8V355.0H732.7V355.0H733.6V355.0H734.5V355.0H735.4V355.0H736.3V355.0H737.2V355.0H738.1V355.0H739.0V355.0H739.9V355.0H740.8V355.0H741.7V355.0H742.6V355.0H743.5V355.0H744.4V355.0H745.3V355.0H746.2V355.0H747.1V355.0H748.0V355.0H748.9V355.0H749.8V355.0H750.7V355.0H751.6V355.0H752.5V355.0H753.4V355.0H754.3V355.0H755.2V355.0H756.1V355.0H757.0V355.0H757.9V355.0H758.8V355.0H759.7V355.0H760.6V355.0H761.5V355.0H762.4V355.0H763.3V355.0H764.2V355.0H765.1V355.0H766.0V355.0H766.9V355.0H767.8V355.0H768.7V355.0H769.6V355.0H770.5V355.0H771.4V355.0H772.3V355.0H773.2V355.0H774.1V355.0H775.0V355.0H775.9V355.0H776.8V355.0H777.7V355.0H778.6V355.0H779.5V355.0H780.4V355.0H781.3V355.0H782.2V355.0H783.1V355.0H784.0V355.0H784.9V355.0H785.8V355.0H786.7V355.0H787.6V355.0H788.5V355.0H789.4V355.0H790.3V355.0H791.2V355.0H792.1V355.0H793.0V355.0H793.9V355.0H794.8V355.0H795.7V355.0H796.6V355.0H797.5V355.0H798.4V355.0H799.3V355.0H800.2V355.0H801.1V355.0H802.0V355.0H802.9V355.0H803.8V355.0H804.7V355.0H805.6V355.0H806.5V355.0H807.4V355.0H808.3V355.0H809.2V355.0H810.1V355.0H811.0V355.0H811.9V355.0H812.8V355.0H813.7V355.0H814.6V355.0H815.5V355.0H816.4V355.0H817.3V355.0H818.2V354.9H819.1V354.8H820.0V354.8H820.9V354.7H821.8V354.4H822.7V354.5H823.6V354.7H824.5V354.4H825.4V354.3H826.3V354.0H827.2V354.2H828.1V353.9H829.0V353.9H829.9V354.1H830.8V353.5H831.7V354.0H832.6V353.4H833.5V353.9H834.4V354.0H835.3V353.9H836.2V353.5H837.1V353.4H838.0V354.1H838.9V353.8H839.8V353.8H840.7V353.5H841.6V353.9H842.5V353.6H843.4V353.6H844.3V353.2H845.2V353.6H846.1V352.9H847.0V353.2H847.9V353.0H848.8V352.2H849.7V352.2H850.6V352.2H851.5V350.8H852.4V350.9H853.3V349.2H854.2V348.7H855.1V347.8H856.0V347.3H856.9V346.9H857.8V346.3H858.7V345.8H859.6V345.0H860.5V346.9H861.4V346.6H862.3V348.5H863.2V349.2H864.1V350.0H865.0V350.1H865.9V351.3H866.8V352.2H867.7V352.5H868.6V353.5H869.5V353.7H870.4V354.0H871.3V354.2H872.2V354.3H873.1V354.6H874.0V354.8H874.9V354.9H875.8V355.0H876.7V355.0H877.6V355.0H878.5V355.0H879.4V355.0H880.3V355.0H881.2V355.0H882.1V355.0H883.0V355.0H883.9V355.0H884.8V355.0H885.7V355.0H886.6V355.0H887.5V355.0H888.4V355.0H889.3V355.0H890.2V355.0H891.1V355.0H892.0V355.0H892.9V354.7H893.8V354.4H894.7V354.0H895.6V352.4H896.5V351.5H897.4V350.1H898.3V349.5H899.2V347.7H900.1V346.3H901.0V345.9H901.9V345.8H902.8V344.7H903.7V344.4H904.6V345.6H905.5V346.0H906.4V347.5H907.3V348.6H908.2V349.9H909.1V352.0H910.0V353.1H910.9V354.1H911.8V354.2H912.7V354.2H913.6V354.4H914.5V354.4H915.4V354.5H916.3V354.0H917.2V354.1H918.1V354.4H919.0V353.9H919.9V354.3H920.8V354.1H921.7V353.7H922.6V353.8H923.5V353.8H924.4V354.0H925.3V354.1H926.2V353.9H927.1V354.3H928.0V354.3H928.9V354.3H929.8V354.5H930.7V354.4H931.6V354.2H932.5V354.3H933.4V354.4H934.3V354.4H935.2V354.5H936.1V354.7H937.0V354.5H937.9V354.6H938.8V354.7H939.7V354.7H940.6V354.8H941.5V354.9H942.4V355.0H943.3V355.0H944.2V355.0H945.1V355.0H946.0V355.0H946.9V355.0H947.8V355.0H948.7V355.0H949.6V355.0H950.5V355.0H951.4V355.0H952.3V354.7H953.2V354.1H954.1V355.0H955.0V355.0H955.9V355.0H956.8V355.0H957.7V355.0H958.6V355.0H959.5V355.0H960.4V355.0H961.3V355.0H962.2V355.0H963.1V355.0H964.0V355.0H964.9V355.0H965.8V355.0H966.7V355.0H967.6V355.0H968.5V355.0H969.4V355.0H970.3V355.0H971.2V355.0H972.1V355.0H973.0V355.0H973.9V355.0H974.8V355.0H975.7V355.0H976.6V355.0H977.5V355.0H978.4V355.0H979.3V355.0H980.2V355.0H981.1V355.0H982.0V355.0H982.9V355.0H983.8V355.0H984.7V355.0H985.6V355.0H986.5V355.0H987.4V355.0H988.3V355.0H989.2V355.0H990.1V355.0H991.0V355.0H991.9V355.0H992.8V355.0H993.7V355.0H994.6V355.0H995.5V355.0H996.4V355.0H997.3V355.0H998.2V355.0H999.1V355.0H1000.0V355.0H1000.9V355.0H1001.8V355.0H1002.7V355.0H1003.6V355.0H1004.5V355.0H1005.4V355.0H1006.3V355.0H1007.2V355.0H1008.1V355.0H1009.0V355.0H1009.9V355.0H1010.8V355.0H1011.7V355.0H1012.6V355.0H1013.5V355.0H1014.4V355.0H1015.3V355.0H1016.2V355.0H1017.1V355.0H1018.0V355.0H1018.9V355.0H1019.8V355.0H1020.7V355.0H1021.6V355.0H1022.5V355.0H1023.4V355.0H1024.3V355.0H1025.2V355.0H1026.1V355.0H1027.0V355.0H1027.9V355.0H1028.8V355.0H1029.7V355.0H1030.6V355.0H1031.5V355.0H1032.4V355.0H1033.3V355.0H1034.2V355.0H1035.1V355.0H1036.0V355.0H1036.9V355.0H1037.8V355.0H1038.7V355.0H1039.6V355.0H1040.5V355.0H1041.4V355.0H1042.3V355.0H1043.2V355.0H1044.1V355.0H1045.0V355.0H1045.9V355.0H1046.8V355.0H1047.7V355.0H1048.6V355.0H1049.5V355.0H1050.4V355.0H1051.3V355.0H1052.2V355.0H1053.1V355.0H1054.0V355.0H1054.9V355.0H1055.8V355.0H1056.7V355.0H1057.6V355.0H1058.5V354.8H1059.4V354.3H1060.3V354.2H1061.2V353.8H1062.1V353.7H1063.0V353.8H1063.9V353.9H1064.8V353.5H1065.7V353.3H1066.6V353.7H1067.5V354.2H1068.4V354.7H1069.3V355.0H1070.2V355.0H1071.1V355.0H1072.0V355.0H1072.9V355.0H1073.8V355.0H1074.7V355.0H1075.6V355.0H1076.5V355.0H1077.4V355.0H1078.0V355.0H1078.0L1078 356.1Z" fill="#34a3c9"/><rect x="586.0" y="339.20" width="1.8" height="1.9" fill="#f01ee0"/><path d="M119.8 391.3V390.2H120.7V390.2H121.6V390.2H122.5V390.2H123.4V390.2H124.3V390.2H125.2V390.2H126.1V390.2H127.0V390.2H127.9V390.2H128.8V390.2H129.7V390.2H130.6V390.2H131.5V390.2H132.4V390.2H133.3V390.2H134.2V390.2H135.1V390.2H136.0V390.2H136.9V390.2H137.8V390.2H138.7V390.2H139.6V390.2H140.5V390.2H141.4V390.2H142.3V390.2H143.2V390.2H144.1V390.2H145.0V390.2H145.9V390.2H146.8V390.2H147.7V390.2H148.6V390.2H149.5V390.2H150.4V390.2H151.3V390.2H152.2V390.2H153.1V390.2H154.0V390.2H154.9V390.2H155.8V390.2H156.7V390.2H157.6V390.2H158.5V390.2H159.4V390.2H160.3V390.2H161.2V390.2H162.1V390.2H163.0V390.2H163.9V390.2H164.8V390.2H165.7V390.2H166.6V390.2H167.5V390.2H168.4V390.2H169.3V390.2H170.2V390.2H171.1V390.2H172.0V390.2H172.9V390.2H173.8V390.2H174.7V390.2H175.6V390.2H176.5V390.2H177.4V390.2H178.3V390.2H179.2V390.2H180.1V390.2H181.0V390.2H181.9V390.2H182.8V390.2H183.7V390.2H184.6V390.2H185.5V390.2H186.4V390.2H187.3V390.2H188.2V390.2H189.1V390.2H190.0V390.2H190.9V390.2H191.8V390.2H192.7V390.2H193.6V390.2H194.5V390.2H195.4V390.2H196.3V390.2H197.2V390.2H198.1V390.2H199.0V390.2H199.9V390.2H200.8V390.2H201.7V390.2H202.6V390.2H203.5V390.2H204.4V390.2H205.3V390.2H206.2V390.2H207.1V390.2H208.0V390.2H208.9V390.2H209.8V390.2H210.7V390.2H211.6V390.2H212.5V390.2H213.4V390.2H214.3V390.2H215.2V390.2H216.1V390.2H217.0V390.2H217.9V390.2H218.8V390.2H219.7V390.2H220.6V390.2H221.5V390.2H222.4V390.2H223.3V390.2H224.2V390.2H225.1V390.2H226.0V390.2H226.9V390.2H227.8V390.2H228.7V390.2H229.6V390.2H230.5V390.2H231.4V390.2H232.3V390.2H233.2V390.2H234.1V390.2H235.0V390.2H235.9V390.2H236.8V390.2H237.7V390.2H238.6V390.2H239.5V390.2H240.4V390.2H241.3V390.2H242.2V390.2H243.1V390.2H244.0V390.2H244.9V390.2H245.8V390.2H246.7V390.2H247.6V390.2H248.5V390.2H249.4V390.2H250.3V390.2H251.2V390.2H252.1V390.2H253.0V390.2H253.9V390.2H254.8V390.2H255.7V390.2H256.6V390.2H257.5V390.2H258.4V390.2H259.3V390.2H260.2V390.2H261.1V390.2H262.0V390.2H262.9V390.2H263.8V390.2H264.7V390.2H265.6V390.2H266.5V390.2H267.4V390.2H268.3V390.2H269.2V390.2H270.1V390.2H271.0V390.2H271.9V390.2H272.8V390.2H273.7V390.2H274.6V390.2H275.5V390.2H276.4V390.2H277.3V390.2H278.2V390.2H279.1V390.2H280.0V390.2H280.9V390.2H281.8V390.2H282.7V390.2H283.6V390.2H284.5V390.2H285.4V390.2H286.3V390.2H287.2V390.2H288.1V390.2H289.0V390.2H289.9V390.2H290.8V390.2H291.7V390.2H292.6V390.2H293.5V390.2H294.4V390.2H295.3V390.2H296.2V390.2H297.1V390.2H298.0V390.2H298.9V390.2H299.8V390.2H300.7V390.2H301.6V390.2H302.5V390.2H303.4V390.2H304.3V390.2H305.2V390.2H306.1V390.2H307.0V390.2H307.9V390.2H308.8V390.2H309.7V390.2H310.6V390.2H311.5V390.2H312.4V390.2H313.3V390.2H314.2V390.2H315.1V390.2H316.0V390.2H316.9V390.2H317.8V390.2H318.7V390.2H319.6V390.2H320.5V390.2H321.4V390.2H322.3V390.2H323.2V390.2H324.1V390.2H325.0V390.2H325.9V390.2H326.8V390.2H327.7V390.2H328.6V390.2H329.5V390.2H330.4V390.2H331.3V390.2H332.2V390.2H333.1V390.2H334.0V390.2H334.9V390.2H335.8V390.2H336.7V390.2H337.6V390.2H338.5V390.2H339.4V390.2H340.3V390.2H341.2V390.2H342.1V390.2H343.0V390.2H343.9V390.2H344.8V390.2H345.7V390.2H346.6V390.2H347.5V390.2H348.4V390.2H349.3V390.2H350.2V390.2H351.1V390.2H352.0V390.2H352.9V390.2H353.8V390.2H354.7V390.2H355.6V390.2H356.5V390.2H357.4V390.2H358.3V390.2H359.2V390.2H360.1V390.2H361.0V390.2H361.9V390.2H362.8V390.2H363.7V390.2H364.6V390.2H365.5V390.2H366.4V390.2H367.3V390.2H368.2V390.2H369.1V390.2H370.0V390.2H370.9V390.2H371.8V390.2H372.7V390.2H373.6V390.2H374.5V390.2H375.4V390.2H376.3V390.2H377.2V390.2H378.1V390.2H379.0V390.2H379.9V390.2H380.8V390.2H381.7V390.2H382.6V390.2H383.5V390.2H384.4V390.2H385.3V390.2H386.2V390.1H387.1V389.6H388.0V389.4H388.9V389.6H389.8V389.9H390.7V390.1H391.6V390.2H392.5V390.2H393.4V390.2H394.3V390.2H395.2V390.2H396.1V390.2H397.0V390.2H397.9V390.2H398.8V390.2H399.7V390.2H400.6V390.2H401.5V390.2H402.4V390.2H403.3V390.2H404.2V390.2H405.1V390.2H406.0V390.2H406.9V390.2H407.8V390.2H408.7V390.2H409.6V390.2H410.5V390.2H411.4V390.2H412.3V390.2H413.2V390.2H414.1V390.2H415.0V390.2H415.9V390.2H416.8V390.2H417.7V390.2H418.6V390.2H419.5V390.2H420.4V390.2H421.3V390.2H422.2V390.2H423.1V390.2H424.0V390.2H424.9V390.2H425.8V390.2H426.7V390.2H427.6V390.2H428.5V390.2H429.4V390.2H430.3V390.2H431.2V390.2H432.1V390.2H433.0V390.2H433.9V390.2H434.8V390.2H435.7V390.2H436.6V390.2H437.5V390.2H438.4V390.2H439.3V390.2H440.2V390.2H441.1V390.2H442.0V390.2H442.9V390.2H443.8V390.2H444.7V390.2H445.6V390.2H446.5V390.2H447.4V390.2H448.3V390.2H449.2V390.2H450.1V390.2H451.0V390.2H451.9V390.2H452.8V390.2H453.7V390.2H454.6V390.2H455.5V390.2H456.4V390.2H457.3V390.2H458.2V390.2H459.1V390.2H460.0V390.2H460.9V390.2H461.8V390.2H462.7V390.2H463.6V390.2H464.5V390.2H465.4V390.2H466.3V390.2H467.2V390.2H468.1V390.2H469.0V390.2H469.9V390.2H470.8V390.2H471.7V390.2H472.6V390.2H473.5V390.2H474.4V390.2H475.3V390.2H476.2V390.2H477.1V390.2H478.0V390.2H478.9V390.2H479.8V390.2H480.7V390.0H481.6V389.8H482.5V389.7H483.4V389.4H484.3V389.5H485.2V389.3H486.1V389.1H487.0V389.2H487.9V389.2H488.8V389.4H489.7V389.3H490.6V389.3H491.5V389.2H492.4V389.4H493.3V389.5H494.2V389.6H495.1V390.0H496.0V390.2H496.9V390.2H497.8V390.2H498.7V390.2H499.6V390.2H500.5V390.2H501.4V390.2H502.3V390.2H503.2V390.2H504.1V390.2H505.0V390.2H505.9V390.2H506.8V390.2H507.7V390.2H508.6V390.2H509.5V390.2H510.4V390.2H511.3V390.2H512.2V390.2H513.1V390.2H514.0V390.2H514.9V390.2H515.8V390.2H516.7V390.2H517.6V390.2H518.5V390.2H519.4V390.2H520.3V390.2H521.2V390.2H522.1V390.2H523.0V390.2H523.9V390.2H524.8V390.2H525.7V390.2H526.6V390.2H527.5V389.9H528.4V389.7H529.3V389.3H530.2V389.7H531.1V390.2H532.0V390.2H532.9V390.2H533.8V390.2H534.7V390.2H535.6V390.2H536.5V390.2H537.4V390.2H538.3V390.2H539.2V390.2H540.1V390.2H541.0V390.2H541.9V390.2H542.8V390.2H543.7V390.2H544.6V390.2H545.5V390.2H546.4V390.2H547.3V390.2H548.2V390.2H549.1V390.2H550.0V390.2H550.9V390.2H551.8V390.2H552.7V390.2H553.6V390.2H554.5V390.2H555.4V390.2H556.3V390.2H557.2V390.2H558.1V390.1H559.0V390.1H559.9V390.0H560.8V389.9H561.7V389.9H562.6V389.8H563.5V389.5H564.4V389.9H565.3V389.5H566.2V389.7H567.1V389.3H568.0V389.2H568.9V389.4H569.8V389.6H570.7V389.3H571.6V389.3H572.5V389.1H573.4V389.1H574.3V388.9H575.2V388.7H576.1V388.7H577.0V388.1H577.9V386.8H578.8V387.1H579.7V385.8H580.6V385.3H581.5V383.9H582.4V383.9H583.3V381.9H584.2V382.1H585.1V381.9H586.0V381.0H586.9V380.8H587.8V382.0H588.7V382.2H589.6V383.0H590.5V383.5H591.4V384.9H592.3V385.9H593.2V386.7H594.1V386.7H595.0V387.3H595.9V388.2H596.8V388.9H597.7V388.6H598.6V388.9H599.5V389.1H600.4V389.2H601.3V388.8H602.2V388.8H603.1V389.0H604.0V389.1H604.9V389.1H605.8V389.3H606.7V388.9H607.6V389.3H608.5V389.1H609.4V389.0H610.3V389.1H611.2V389.3H612.1V389.4H613.0V389.5H613.9V389.9H614.8V389.9H615.7V390.1H616.6V390.2H617.5V390.2H618.4V390.2H619.3V390.2H620.2V390.2H621.1V390.2H622.0V390.2H622.9V390.2H623.8V390.2H624.7V390.2H625.6V390.2H626.5V390.2H627.4V390.2H628.3V390.2H629.2V390.2H630.1V390.2H631.0V390.2H631.9V390.2H632.8V390.2H633.7V390.2H634.6V390.2H635.5V390.2H636.4V390.2H637.3V390.2H638.2V390.2H639.1V390.2H640.0V390.2H640.9V390.2H641.8V390.2H642.7V390.2H643.6V390.2H644.5V390.2H645.4V390.2H646.3V390.2H647.2V390.2H648.1V390.2H649.0V390.2H649.9V390.2H650.8V390.2H651.7V390.2H652.6V390.2H653.5V390.2H654.4V390.2H655.3V390.2H656.2V390.2H657.1V390.2H658.0V390.2H658.9V390.2H659.8V390.2H660.7V390.2H661.6V390.2H662.5V390.2H663.4V390.2H664.3V390.2H665.2V390.2H666.1V390.2H667.0V390.2H667.9V390.2H668.8V390.2H669.7V390.2H670.6V390.2H671.5V390.2H672.4V390.2H673.3V390.2H674.2V390.2H675.1V390.2H676.0V390.2H676.9V390.2H677.8V390.2H678.7V390.2H679.6V390.2H680.5V390.2H681.4V390.2H682.3V390.2H683.2V390.2H684.1V390.2H685.0V390.2H685.9V390.2H686.8V390.2H687.7V390.2H688.6V390.2H689.5V390.2H690.4V390.2H691.3V390.2H692.2V390.2H693.1V390.2H694.0V390.2H694.9V390.2H695.8V390.2H696.7V390.2H697.6V390.2H698.5V390.2H699.4V390.2H700.3V390.2H701.2V390.2H702.1V390.2H703.0V390.2H703.9V390.2H704.8V390.2H705.7V390.2H706.6V390.2H707.5V390.2H708.4V390.2H709.3V390.2H710.2V390.2H711.1V390.2H712.0V390.2H712.9V390.2H713.8V390.2H714.7V390.2H715.6V390.2H716.5V390.2H717.4V390.2H718.3V390.2H719.2V390.2H720.1V390.2H721.0V390.2H721.9V390.2H722.8V390.2H723.7V390.2H724.6V390.2H725.5V390.2H726.4V390.2H727.3V390.2H728.2V390.2H729.1V390.2H730.0V390.2H730.9V390.2H731.8V390.2H732.7V390.2H733.6V390.2H734.5V390.2H735.4V390.2H736.3V390.2H737.2V390.2H738.1V390.2H739.0V390.2H739.9V390.2H740.8V390.2H741.7V390.2H742.6V390.2H743.5V390.2H744.4V390.2H745.3V390.2H746.2V390.2H747.1V390.2H748.0V390.2H748.9V390.2H749.8V390.2H750.7V390.2H751.6V390.2H752.5V390.2H753.4V390.2H754.3V390.2H755.2V390.2H756.1V390.2H757.0V390.2H757.9V390.2H758.8V390.2H759.7V390.2H760.6V390.2H761.5V390.2H762.4V390.2H763.3V390.2H764.2V390.2H765.1V390.2H766.0V390.2H766.9V390.2H767.8V390.2H768.7V390.2H769.6V390.2H770.5V390.2H771.4V390.2H772.3V390.2H773.2V390.2H774.1V390.2H775.0V390.2H775.9V390.2H776.8V390.2H777.7V390.2H778.6V390.2H779.5V390.2H780.4V390.2H781.3V390.2H782.2V390.2H783.1V390.2H784.0V390.2H784.9V390.2H785.8V390.2H786.7V390.2H787.6V390.2H788.5V390.2H789.4V390.2H790.3V390.2H791.2V390.2H792.1V390.2H793.0V390.2H793.9V390.2H794.8V390.2H795.7V390.2H796.6V390.2H797.5V390.2H798.4V390.2H799.3V390.2H800.2V390.2H801.1V390.2H802.0V390.2H802.9V390.2H803.8V390.2H804.7V390.2H805.6V390.2H806.5V390.2H807.4V390.2H808.3V390.2H809.2V390.2H810.1V390.2H811.0V390.2H811.9V390.2H812.8V390.2H813.7V390.2H814.6V390.2H815.5V390.2H816.4V390.2H817.3V390.2H818.2V390.1H819.1V390.0H820.0V389.9H820.9V389.6H821.8V389.8H822.7V389.4H823.6V389.6H824.5V389.4H825.4V389.4H826.3V389.3H827.2V389.4H828.1V389.5H829.0V389.0H829.9V389.2H830.8V389.2H831.7V389.1H832.6V388.9H833.5V388.9H834.4V388.7H835.3V388.7H836.2V388.8H837.1V388.3H838.0V388.3H838.9V388.9H839.8V388.2H840.7V388.1H841.6V388.1H842.5V388.7H843.4V387.9H844.3V388.0H845.2V388.4H846.1V388.3H847.0V387.2H847.9V387.3H848.8V387.7H849.7V387.7H850.6V387.5H851.5V387.2H852.4V386.2H853.3V386.4H854.2V386.2H855.1V384.7H856.0V384.4H856.9V384.9H857.8V383.5H858.7V383.4H859.6V383.5H860.5V384.2H861.4V384.4H862.3V385.1H863.2V385.6H864.1V387.1H865.0V387.1H865.9V387.7H866.8V388.0H867.7V388.7H868.6V388.7H869.5V389.2H870.4V389.6H871.3V389.6H872.2V389.6H873.1V389.4H874.0V389.6H874.9V389.3H875.8V389.6H876.7V389.4H877.6V389.5H878.5V389.6H879.4V389.5H880.3V390.0H881.2V389.7H882.1V389.9H883.0V390.0H883.9V390.1H884.8V390.1H885.7V390.2H886.6V390.2H887.5V390.2H888.4V390.2H889.3V390.2H890.2V390.2H891.1V390.2H892.0V390.2H892.9V390.2H893.8V389.7H894.7V389.1H895.6V388.5H896.5V387.8H897.4V387.6H898.3V386.8H899.2V385.5H900.1V386.7H901.0V385.9H901.9V385.9H902.8V386.7H903.7V386.0H904.6V385.9H905.5V385.5H906.4V386.3H907.3V385.4H908.2V386.9H909.1V387.9H910.0V388.2H910.9V389.5H911.8V389.2H912.7V389.3H913.6V389.5H914.5V389.3H915.4V389.6H916.3V389.5H917.2V389.4H918.1V389.3H919.0V389.6H919.9V389.4H920.8V389.4H921.7V389.3H922.6V389.2H923.5V389.5H924.4V389.1H925.3V389.4H926.2V389.4H927.1V389.6H928.0V389.5H928.9V389.3H929.8V389.5H930.7V389.5H931.6V389.8H932.5V389.9H933.4V389.9H934.3V390.0H935.2V390.1H936.1V390.2H937.0V390.2H937.9V390.2H938.8V390.2H939.7V390.2H940.6V390.2H941.5V390.2H942.4V390.2H943.3V390.2H944.2V390.2H945.1V390.2H946.0V390.2H946.9V390.2H947.8V390.2H948.7V390.2H949.6V390.2H950.5V390.2H951.4V390.2H952.3V390.2H953.2V390.2H954.1V390.2H955.0V390.2H955.9V390.2H956.8V390.2H957.7V390.2H958.6V390.2H959.5V390.2H960.4V390.2H961.3V390.2H962.2V390.2H963.1V390.2H964.0V390.2H964.9V390.2H965.8V390.2H966.7V390.2H967.6V390.2H968.5V390.2H969.4V390.2H970.3V390.2H971.2V390.2H972.1V390.2H973.0V390.2H973.9V390.2H974.8V390.2H975.7V390.2H976.6V390.2H977.5V390.2H978.4V390.2H979.3V390.2H980.2V390.2H981.1V390.2H982.0V390.2H982.9V390.2H983.8V390.2H984.7V390.2H985.6V390.2H986.5V390.2H987.4V390.2H988.3V390.2H989.2V390.2H990.1V390.2H991.0V390.2H991.9V390.2H992.8V390.2H993.7V390.2H994.6V390.2H995.5V390.2H996.4V390.2H997.3V390.2H998.2V390.2H999.1V390.2H1000.0V390.2H1000.9V390.2H1001.8V390.2H1002.7V390.2H1003.6V390.2H1004.5V390.2H1005.4V390.2H1006.3V390.2H1007.2V390.2H1008.1V390.2H1009.0V390.2H1009.9V390.2H1010.8V390.2H1011.7V390.2H1012.6V390.2H1013.5V390.2H1014.4V390.2H1015.3V390.2H1016.2V390.2H1017.1V390.2H1018.0V390.2H1018.9V390.2H1019.8V390.2H1020.7V390.2H1021.6V390.2H1022.5V390.2H1023.4V390.2H1024.3V390.2H1025.2V390.2H1026.1V390.2H1027.0V390.2H1027.9V390.2H1028.8V390.2H1029.7V390.2H1030.6V390.2H1031.5V390.2H1032.4V390.2H1033.3V390.2H1034.2V390.2H1035.1V390.2H1036.0V390.2H1036.9V390.2H1037.8V390.2H1038.7V390.2H1039.6V390.2H1040.5V390.2H1041.4V390.2H1042.3V390.2H1043.2V390.2H1044.1V390.2H1045.0V390.2H1045.9V390.2H1046.8V390.2H1047.7V390.2H1048.6V390.2H1049.5V390.2H1050.4V390.2H1051.3V390.2H1052.2V390.2H1053.1V390.2H1054.0V390.2H1054.9V390.2H1055.8V390.2H1056.7V390.0H1057.6V389.7H1058.5V389.4H1059.4V389.1H1060.3V389.4H1061.2V388.9H1062.1V388.7H1063.0V388.9H1063.9V389.2H1064.8V389.0H1065.7V389.2H1066.6V389.3H1067.5V389.2H1068.4V389.9H1069.3V390.2H1070.2V390.2H1071.1V390.2H1072.0V390.2H1072.9V390.2H1073.8V390.2H1074.7V390.2H1075.6V390.2H1076.5V390.2H1077.4V390.2H1078.0V390.2H1078.0L1078 391.3Z" fill="#7030a0"/>
<path d="M862.45 233V251M862.45 268V285.8M862.45 303V321.1M862.45 338V356.2M862.45 374V391.4M575.4 275V285.8M601.2 275V285.8M575.3 240V251M601.4 240V251M913.5 275V285.8" stroke="#fff" stroke-width="1" opacity="0.9"/>
<text x="599.3" y="406.7" fill="#000a64" text-anchor="middle" >12 Flies, Mosquito, Honeybee, Beetle Multiz Alignments &amp; phastCons Scores</text>
<path d="M120 477.0V448.2H120.9V448.3H121.8V448.6H122.7V444.3H123.6V443.6H124.5V443.6H125.4V443.6H126.3V443.8H127.2V443.5H128.1V443.7H129.0V442.6H129.9V443.7H130.8V443.2H131.7V443.9H132.6V442.3H133.5V442.5H134.4V442.2H135.3V444.0H136.2V444.3H137.1V443.7H138.0V443.0H138.9V444.1H139.8V444.0H140.7V443.4H141.6V442.7H142.5V442.8H143.4V443.1H144.3V442.9H145.2V443.1H146.1V443.6H147.0V444.3H147.9V442.2H148.8V443.5H149.7V442.2H150.6V442.4H151.5V444.0H152.4V443.5H153.3V444.3H154.2V443.2H155.1V442.1H156.0V443.0H156.9V443.5H157.8V444.4H158.7V444.5H159.6V445.9H160.5V446.6H161.4V450.5H162.3V447.9H163.2V451.1H164.1V442.6H165.0V458.0H165.9V446.9H166.8V444.3H167.7V445.8H168.6V452.0H169.5V452.0H170.4V445.8H171.3V443.7H172.2V441.1H173.1V443.2H174.0V434.5H174.9V442.9H175.8V440.9H176.7V442.4H177.6V444.1H178.5V442.5H179.4V446.1H180.3V443.7H181.2V447.3H182.1V444.6H183.0V442.2H183.9V446.4H184.8V443.9H185.7V449.1H186.6V442.4H187.5V443.9H188.4V445.2H189.3V447.0H190.2V449.1H191.1V445.3H192.0V440.3H192.9V445.3H193.8V443.7H194.7V451.3H195.6V444.5H196.5V442.3H197.4V435.5H198.3V441.3H199.2V446.1H200.1V450.0H201.0V443.0H201.9V433.9H202.8V445.1H203.7V440.6H204.6V445.0H205.5V449.9H206.4V445.8H207.3V443.1H208.2V441.2H209.1V433.5H210.0V442.4H210.9V442.6H211.8V441.0H212.7V438.0H213.6V440.7H214.5V445.1H215.4V435.8H216.3V449.6H217.2V432.7H218.1V445.6H219.0V443.7H219.9V450.9H220.8V446.2H221.7V445.3H222.6V441.7H223.5V433.6H224.4V433.0H225.3V435.6H226.2V443.0H227.1V445.9H228.0V435.8H228.9V440.8H229.8V441.7H230.7V444.2H231.6V444.4H232.5V442.9H233.4V437.8H234.3V441.4H235.2V433.9H236.1V445.9H237.0V445.4H237.9V436.8H238.8V444.2H239.7V448.7H240.6V444.8H241.5V443.4H242.4V442.3H243.3V442.9H244.2V437.4H245.1V449.4H246.0V444.7H246.9V441.6H247.8V444.7H248.7V442.8H249.6V442.9H250.5V448.5H251.4V441.6H252.3V442.6H253.2V444.4H254.1V443.0H255.0V436.8H255.9V443.7H256.8V442.1H257.7V442.5H258.6V444.7H259.5V451.2H260.4V451.9H261.3V448.7H262.2V441.7H263.1V441.9H264.0V441.7H264.9V445.2H265.8V443.0H266.7V443.4H267.6V439.1H268.5V438.2H269.4V442.3H270.3V450.5H271.2V444.5H272.1V444.3H273.0V438.9H273.9V442.8H274.8V443.9H275.7V442.3H276.6V451.4H277.5V443.0H278.4V451.0H279.3V441.7H280.2V447.8H281.1V447.8H282.0V443.1H282.9V442.1H283.8V443.0H284.7V441.5H285.6V443.4H286.5V443.3H287.4V444.3H288.3V442.7H289.2V442.6H290.1V442.4H291.0V442.7H291.9V444.7H292.8V441.2H293.7V444.7H294.6V442.1H295.5V441.3H296.4V441.8H297.3V440.4H298.2V441.5H299.1V441.7H300.0V440.3H300.9V440.6H301.8V443.1H302.7V442.5H303.6V443.0H304.5V442.1H305.4V442.6H306.3V442.9H307.2V442.9H308.1V440.3H309.0V442.1H309.9V441.0H310.8V442.2H311.7V441.0H312.6V430.2H313.5V432.7H314.4V433.9H315.3V435.0H316.2V437.3H317.1V439.0H318.0V454.9H318.9V453.6H319.8V427.4H320.7V428.4H321.6V426.9H322.5V428.3H323.4V429.4H324.3V428.0H325.2V427.3H326.1V427.9H327.0V428.1H327.9V446.6H328.8V447.2H329.7V447.0H330.6V449.4H331.5V448.6H332.4V442.8H333.3V442.9H334.2V441.9H335.1V448.1H336.0V442.0H336.9V442.1H337.8V439.5H338.7V447.7H339.6V443.9H340.5V444.8H341.4V442.3H342.3V443.5H343.2V443.1H344.1V444.0H345.0V443.8H345.9V451.3H346.8V443.0H347.7V442.7H348.6V443.4H349.5V442.8H350.4V442.6H351.3V442.3H352.2V443.0H353.1V442.2H354.0V443.3H354.9V442.3H355.8V444.8H356.7V447.9H357.6V443.0H358.5V443.2H359.4V443.1H360.3V442.4H361.2V444.8H362.1V441.4H363.0V443.2H363.9V444.9H364.8V443.5H365.7V443.1H366.6V442.3H367.5V443.1H368.4V443.8H369.3V444.6H370.2V442.2H371.1V441.8H372.0V443.4H372.9V448.6H373.8V439.3H374.7V444.4H375.6V442.3H376.5V442.6H377.4V445.5H378.3V442.0H379.2V441.9H380.1V443.6H381.0V447.8H381.9V442.8H382.8V442.2H383.7V445.1H384.6V438.6H385.5V443.8H386.4V439.2H387.3V444.9H388.2V444.8H389.1V445.3H390.0V442.5H390.9V442.4H391.8V443.4H392.7V442.2H393.6V445.4H394.5V442.0H395.4V446.7H396.3V442.9H397.2V438.6H398.1V442.9H399.0V441.9H399.9V442.0H400.8V444.7H401.7V444.4H402.6V442.3H403.5V442.4H404.4V444.3H405.3V443.9H406.2V443.9H407.1V442.0H408.0V442.6H408.9V444.1H409.8V443.1H410.7V444.9H411.6V445.4H412.5V444.1H413.4V445.9H414.3V446.1H415.2V448.1H416.1V441.5H417.0V447.7H417.9V447.6H418.8V448.4H419.7V435.5H420.6V434.7H421.5V434.7H422.4V436.0H423.3V445.7H424.2V445.8H425.1V448.3H426.0V454.0H426.9V448.4H427.8V451.1H428.7V446.4H429.6V446.8H430.5V454.8H431.4V451.5H432.3V451.2H433.2V449.5H434.1V448.9H435.0V449.6H435.9V451.2H436.8V456.3H437.7V450.1H438.6V457.8H439.5V448.8H440.4V450.7H441.3V447.8H442.2V425.6H443.1V425.9H444.0V425.4H444.9V427.1H445.8V427.0H446.7V425.7H447.6V425.7H448.5V426.5H449.4V426.3H450.3V427.8H451.2V426.1H452.1V444.4H453.0V446.5H453.9V446.4H454.8V447.3H455.7V448.1H456.6V444.3H457.5V442.5H458.4V447.6H459.3V439.0H460.2V444.6H461.1V446.4H462.0V448.0H462.9V449.8H463.8V445.9H464.7V453.9H465.6V447.0H466.5V444.0H467.4V442.2H468.3V444.4H469.2V448.8H470.1V441.0H471.0V451.3H471.9V447.6H472.8V447.6H473.7V448.0H474.6V445.3H475.5V451.6H476.4V452.6H477.3V446.3H478.2V440.5H479.1V442.7H480.0V440.2H480.9V451.5H481.8V444.7H482.7V444.0H483.6V442.0H484.5V445.0H485.4V441.8H486.3V442.1H487.2V441.9H488.1V445.5H489.0V445.8H489.9V440.4H490.8V441.8H491.7V442.9H492.6V439.5H493.5V444.1H494.4V444.0H495.3V442.5H496.2V442.4H497.1V445.3H498.0V445.2H498.9V443.2H499.8V443.3H500.7V440.7H501.6V437.2H502.5V445.2H503.4V444.5H504.3V444.3H505.2V442.4H506.1V443.4H507.0V448.8H507.9V440.1H508.8V441.8H509.7V447.6H510.6V446.3H511.5V444.7H512.4V447.1H513.3V444.5H514.2V444.0H515.1V444.4H516.0V444.5H516.9V445.0H517.8V447.4H518.7V444.1H519.6V444.7H520.5V446.7H521.4V447.5H522.3V444.2H523.2V444.6H524.1V451.1H525.0V446.7H525.9V444.6H526.8V444.5H527.7V444.9H528.6V444.2H529.5V445.9H530.4V451.3H531.3V444.1H532.2V444.2H533.1V445.1H534.0V445.0H534.9V444.1H535.8V447.1H536.7V446.5H537.6V445.1H538.5V447.8H539.4V447.1H540.3V446.5H541.2V450.3H542.1V448.0H543.0V445.0H543.9V451.9H544.8V446.8H545.7V450.2H546.6V447.9H547.5V446.4H548.4V445.3H549.3V448.9H550.2V443.3H551.1V448.6H552.0V445.1H552.9V447.8H553.8V445.8H554.7V447.6H555.6V441.0H556.5V441.0H557.4V444.4H558.3V448.5H559.2V445.8H560.1V447.6H561.0V437.0H561.9V446.3H562.8V446.6H563.7V441.4H564.6V446.3H565.5V441.3H566.4V443.4H567.3V447.9H568.2V445.6H569.1V445.4H570.0V447.2H570.9V447.6H571.8V448.0H572.7V448.1H573.6V448.1H574.5V446.1H575.4V450.9H576.3V448.1H577.2V445.9H578.1V450.6H579.0V456.2H579.9V455.5H580.8V457.0H581.7V454.1H582.6V457.9H583.5V455.4H584.4V455.3H585.3V452.2H586.2V452.3H587.1V436.0H588.0V446.7H588.9V443.9H589.8V444.7H590.7V446.0H591.6V433.0H592.5V429.6H593.4V430.1H594.3V430.1H595.2V432.6H596.1V431.4H597.0V432.5H597.9V444.4H598.8V443.7H599.7V447.7H600.6V443.0H601.5V445.9H602.4V428.7H603.3V429.7H604.2V434.1H605.1V434.3H606.0V422.7H606.9V427.3H607.8V427.9H608.7V426.7H609.6V448.4H610.5V446.1H611.4V446.1H612.3V449.3H613.2V442.9H614.1V447.1H615.0V452.6H615.9V456.0H616.8V447.3H617.7V449.9H618.6V427.1H619.5V429.4H620.4V427.1H621.3V425.5H622.2V426.5H623.1V426.5H624.0V428.9H624.9V425.7H625.8V428.1H626.7V436.1H627.6V442.5H628.5V442.8H629.4V444.0H630.3V441.7H631.2V442.9H632.1V443.2H633.0V442.1H633.9V443.1H634.8V442.2H635.7V442.6H636.6V442.8H637.5V443.0H638.4V442.0H639.3V442.9H640.2V442.6H641.1V441.7H642.0V442.8H642.9V441.8H643.8V443.7H644.7V442.4H645.6V443.2H646.5V442.6H647.4V442.4H648.3V441.7H649.2V441.4H650.1V443.8H651.0V442.6H651.9V442.6H652.8V427.1H653.7V427.6H654.6V426.5H655.5V426.3H656.4V427.6H657.3V426.9H658.2V427.3H659.1V448.3H660.0V445.2H660.9V448.3H661.8V426.5H662.7V426.2H663.6V426.7H664.5V427.6H665.4V427.0H666.3V445.9H667.2V444.8H668.1V445.7H669.0V447.5H669.9V446.6H670.8V441.0H671.7V445.8H672.6V445.9H673.5V446.9H674.4V446.8H675.3V433.0H676.2V432.5H677.1V430.3H678.0V429.0H678.9V426.9H679.8V425.7H680.7V424.1H681.6V422.8H682.5V423.6H683.4V425.5H684.3V427.7H685.2V429.7H686.1V433.6H687.0V442.2H687.9V440.8H688.8V441.0H689.7V440.7H690.6V442.5H691.5V440.3H692.4V443.3H693.3V443.7H694.2V442.4H695.1V442.8H696.0V443.6H696.9V443.2H697.8V442.7H698.7V442.1H699.6V442.9H700.5V442.7H701.4V443.4H702.3V442.6H703.2V442.8H704.1V443.3H705.0V443.6H705.9V442.7H706.8V442.8H707.7V443.2H708.6V443.8H709.5V442.4H710.4V443.9H711.3V443.4H712.2V442.7H713.1V443.3H714.0V442.7H714.9V442.1H715.8V443.5H716.7V442.8H717.6V443.1H718.5V443.0H719.4V443.8H720.3V443.5H721.2V442.1H722.1V443.2H723.0V442.9H723.9V442.9H724.8V444.2H725.7V443.3H726.6V446.5H727.5V447.1H728.4V446.4H729.3V446.5H730.2V446.5H731.1V444.1H732.0V443.8H732.9V444.0H733.8V443.3H734.7V441.6H735.6V442.9H736.5V442.6H737.4V443.0H738.3V443.0H739.2V441.7H740.1V441.9H741.0V441.7H741.9V443.1H742.8V441.7H743.7V441.7H744.6V443.0H745.5V442.6H746.4V441.6H747.3V442.9H748.2V442.9H749.1V442.5H750.0V441.6H750.9V442.9H751.8V442.3H752.7V442.7H753.6V443.5H754.5V443.1H755.4V443.2H756.3V441.8H757.2V442.2H758.1V442.5H759.0V441.5H759.9V443.5H760.8V442.0H761.7V442.0H762.6V442.1H763.5V442.0H764.4V443.2H765.3V442.6H766.2V442.5H767.1V442.3H768.0V441.6H768.9V442.1H769.8V443.2H770.7V443.1H771.6V443.2H772.5V442.0H773.4V441.9H774.3V441.6H775.2V442.6H776.1V442.2H777.0V442.4H777.9V442.5H778.8V442.7H779.7V442.2H780.6V443.1H781.5V441.9H782.4V443.3H783.3V442.6H784.2V441.6H785.1V442.1H786.0V442.6H786.9V442.3H787.8V442.6H788.7V442.1H789.6V442.0H790.5V443.1H791.4V442.1H792.3V442.9H793.2V443.1H794.1V442.7H795.0V442.4H795.9V443.4H796.8V442.4H797.7V443.3H798.6V441.6H799.5V442.4H800.4V445.4H801.3V443.6H802.2V446.1H803.1V443.7H804.0V445.3H804.9V444.0H805.8V429.3H806.7V428.6H807.6V429.1H808.5V428.5H809.4V445.0H810.3V442.3H811.2V446.5H812.1V458.2H813.0V459.6H813.9V459.9H814.8V424.2H815.7V426.1H816.6V418.2H817.5V423.7H818.4V423.8H819.3V426.1H820.2V423.1H821.1V431.0H822.0V429.0H822.9V423.4H823.8V424.4H824.7V425.2H825.6V423.0H826.5V426.3H827.4V423.9H828.3V426.2H829.2V426.0H830.1V422.9H831.0V460.8H831.9V460.7H832.8V429.5H833.7V430.8H834.6V429.1H835.5V430.2H836.4V422.4H837.3V421.2H838.2V422.4H839.1V421.8H840.0V437.0H840.9V424.2H841.8V426.2H842.7V429.8H843.6V425.3H844.5V430.4H845.4V457.6H846.3V456.4H847.2V455.7H848.1V456.3H849.0V456.9H849.9V458.5H850.8V427.6H851.7V426.4H852.6V427.4H853.5V426.5H854.4V433.1H855.3V431.8H856.2V431.5H857.1V448.0H858.0V428.8H858.9V442.1H859.8V446.7H860.7V443.4H861.6V448.6H862.5V443.8H863.4V445.5H864.3V444.0H865.2V441.7H866.1V446.2H867.0V446.9H867.9V442.1H868.8V444.4H869.7V448.9H870.6V447.4H871.5V446.9H872.4V450.0H873.3V442.0H874.2V448.0H875.1V449.0H876.0V448.5H876.9V446.4H877.8V446.6H878.7V449.0H879.6V445.3H880.5V445.2H881.4V444.7H882.3V445.0H883.2V444.9H884.1V444.3H885.0V443.8H885.9V445.0H886.8V444.9H887.7V445.1H888.6V443.4H889.5V445.4H890.4V444.1H891.3V445.3H892.2V442.8H893.1V445.4H894.0V444.9H894.9V443.3H895.8V445.0H896.7V443.2H897.6V443.1H898.5V443.9H899.4V443.2H900.3V444.0H901.2V445.2H902.1V444.6H903.0V444.6H903.9V443.7H904.8V443.6H905.7V443.6H906.6V443.4H907.5V443.9H908.4V443.7H909.3V442.8H910.2V442.2H911.1V443.3H912.0V443.7H912.9V442.7H913.8V443.2H914.7V443.7H915.6V443.6H916.5V442.0H917.4V443.0H918.3V442.0H919.2V442.2H920.1V443.6H921.0V442.8H921.9V443.2H922.8V442.9H923.7V442.7H924.6V442.4H925.5V442.7H926.4V443.7H927.3V443.2H928.2V442.6H929.1V442.2H930.0V442.5H930.9V443.4H931.8V442.9H932.7V443.3H933.6V443.6H934.5V442.2H935.4V443.4H936.3V442.1H937.2V443.6H938.1V442.4H939.0V442.5H939.9V443.9H940.8V442.7H941.7V442.4H942.6V443.8H943.5V443.2H944.4V443.8H945.3V442.8H946.2V443.0H947.1V443.9H948.0V443.0H948.9V444.0H949.8V442.4H950.7V443.7H951.6V442.3H952.5V443.1H953.4V442.0H954.3V442.4H955.2V443.9H956.1V442.9H957.0V443.6H957.9V442.5H958.8V442.7H959.7V442.2H960.6V443.1H961.5V443.7H962.4V443.0H963.3V442.8H964.2V443.9H965.1V443.8H966.0V443.3H966.9V442.2H967.8V443.2H968.7V442.9H969.6V443.9H970.5V442.7H971.4V443.3H972.3V438.5H973.2V436.7H974.1V434.9H975.0V433.1H975.9V432.1H976.8V431.9H977.7V438.0H978.6V438.4H979.5V438.8H980.4V452.0H981.3V450.2H982.2V452.2H983.1V453.6H984.0V446.6H984.9V447.5H985.8V446.9H986.7V443.9H987.6V443.7H988.5V441.4H989.4V442.8H990.3V442.7H991.2V441.1H992.1V442.2H993.0V443.2H993.9V442.9H994.8V441.8H995.7V443.3H996.6V441.9H997.5V442.6H998.4V442.3H999.3V443.9H1000.2V442.9H1001.1V443.4H1002.0V443.0H1002.9V442.1H1003.8V443.9H1004.7V443.1H1005.6V443.1H1006.5V441.8H1007.4V441.5H1008.3V442.7H1009.2V443.5H1010.1V443.4H1011.0V442.0H1011.9V441.4H1012.8V442.5H1013.7V443.6H1014.6V441.5H1015.5V443.2H1016.4V441.5H1017.3V441.9H1018.2V441.2H1019.1V441.9H1020.0V442.1H1020.9V443.9H1021.8V443.9H1022.7V441.6H1023.6V441.9H1024.5V443.8H1025.4V441.6H1026.3V442.0H1027.2V442.3H1028.1V441.3H1029.0V441.8H1029.9V442.2H1030.8V442.2H1031.7V447.9H1032.6V446.5H1033.5V446.4H1034.4V442.1H1035.3V441.4H1036.2V442.0H1037.1V441.7H1038.0V441.9H1038.9V441.2H1039.8V441.0H1040.7V441.9H1041.6V441.5H1042.5V441.6H1043.4V441.7H1044.3V441.9H1045.2V441.2H1046.1V441.3H1047.0V442.1H1047.9V441.5H1048.8V441.2H1049.7V441.7H1050.6V441.2H1051.5V441.9H1052.4V440.9H1053.3V442.0H1054.2V441.6H1055.1V444.6H1056.0V446.3H1056.9V444.3H1057.8V444.2H1058.7V443.7H1059.6V445.1H1060.5V445.8H1061.4V445.5H1062.3V444.7H1063.2V445.9H1064.1V443.8H1065.0V444.4H1065.9V445.4H1066.8V446.4H1067.7V445.4H1068.6V445.6H1069.5V445.8H1070.4V444.7H1071.3V446.3H1072.2V445.7H1073.1V444.5H1074.0V444.7H1074.9V445.9H1075.8V444.5H1076.7V444.1H1077.6V446.1H1078.0L1078 477.0Z" fill="#000a64"/><path d="M431.2 420h0.60V470h-0.60Z" fill="#fff" opacity="0.85"/><path d="M435.3 420h0.50V463h-0.50ZM440.2 420h0.50V475h-0.50Z" fill="#fff" opacity="0.5"/><path d="M553.5 420h0.49V474h-0.49ZM606.5 420h0.50V453h-0.50ZM1060.0 420h0.59V466h-0.59ZM302.8 420h0.41V449h-0.41ZM542.1 420h0.56V463h-0.56ZM1074.8 420h0.60V472h-0.60ZM853.6 420h0.45V472h-0.45ZM991.2 420h0.47V475h-0.47ZM204.3 420h0.43V475h-0.43ZM883.0 420h0.39V464h-0.39ZM303.3 420h0.53V452h-0.53ZM1049.2 420h0.55V457h-0.55ZM322.4 420h0.45V472h-0.45ZM207.2 420h0.50V455h-0.50ZM476.3 420h0.46V475h-0.46ZM827.9 420h0.59V454h-0.59ZM158.0 420h0.59V455h-0.59ZM668.0 420h0.38V458h-0.38ZM1058.4 420h0.51V467h-0.51ZM255.2 420h0.36V449h-0.36ZM791.1 420h0.59V449h-0.59ZM582.0 420h0.53V457h-0.53ZM193.0 420h0.49V469h-0.49ZM825.7 420h0.53V470h-0.53ZM457.4 420h0.52V473h-0.52ZM519.8 420h0.55V472h-0.55ZM718.5 420h0.45V464h-0.45ZM197.7 420h0.51V476h-0.51ZM817.2 420h0.45V469h-0.45ZM542.1 420h0.56V450h-0.56ZM788.6 420h0.47V465h-0.47ZM365.6 420h0.35V456h-0.35ZM314.7 420h0.39V473h-0.39ZM543.5 420h0.57V457h-0.57ZM310.8 420h0.46V471h-0.46ZM251.2 420h0.47V471h-0.47ZM551.8 420h0.42V454h-0.42ZM719.2 420h0.47V457h-0.47ZM955.4 420h0.36V468h-0.36ZM255.7 420h0.36V466h-0.36ZM723.2 420h0.51V471h-0.51ZM381.4 420h0.44V468h-0.44ZM708.4 420h0.54V459h-0.54ZM987.4 420h0.37V474h-0.37ZM245.2 420h0.46V466h-0.46ZM481.2 420h0.49V473h-0.49ZM811.2 420h0.55V466h-0.55ZM324.9 420h0.57V475h-0.57ZM634.3 420h0.55V457h-0.55ZM939.1 420h0.44V450h-0.44ZM614.8 420h0.53V472h-0.53ZM332.7 420h0.48V456h-0.48ZM731.8 420h0.48V472h-0.48ZM419.0 420h0.45V472h-0.45ZM320.1 420h0.56V475h-0.56ZM668.8 420h0.40V463h-0.40ZM699.6 420h0.36V475h-0.36ZM504.0 420h0.55V464h-0.55ZM781.6 420h0.37V463h-0.37ZM1035.8 420h0.58V456h-0.58ZM242.4 420h0.46V471h-0.46ZM576.6 420h0.43V453h-0.43ZM460.7 420h0.50V451h-0.50ZM628.0 420h0.46V459h-0.46ZM627.1 420h0.39V454h-0.39ZM731.4 420h0.48V472h-0.48ZM940.1 420h0.41V469h-0.41ZM984.0 420h0.43V457h-0.43ZM604.4 420h0.54V462h-0.54ZM297.4 420h0.40V472h-0.40ZM1007.1 420h0.37V450h-0.37ZM562.7 420h0.54V457h-0.54ZM791.2 420h0.56V453h-0.56ZM611.0 420h0.35V473h-0.35ZM794.7 420h0.57V466h-0.57ZM694.2 420h0.48V476h-0.48ZM367.9 420h0.58V469h-0.58ZM899.8 420h0.45V473h-0.45ZM785.2 420h0.54V469h-0.54ZM811.8 420h0.37V458h-0.37ZM131.1 420h0.44V466h-0.44ZM751.7 420h0.49V463h-0.49ZM1076.9 420h0.51V468h-0.51ZM1058.0 420h0.36V465h-0.36ZM480.1 420h0.37V455h-0.37ZM646.9 420h0.48V475h-0.48ZM692.2 420h0.54V449h-0.54ZM273.9 420h0.47V453h-0.47ZM705.3 420h0.36V474h-0.36ZM747.3 420h0.49V456h-0.49ZM270.7 420h0.54V459h-0.54ZM836.4 420h0.36V476h-0.36ZM191.3 420h0.58V460h-0.58ZM1051.3 420h0.41V463h-0.41ZM811.9 420h0.47V475h-0.47ZM698.1 420h0.38V465h-0.38ZM677.6 420h0.45V470h-0.45ZM229.9 420h0.57V470h-0.57ZM464.4 420h0.42V467h-0.42ZM359.0 420h0.59V474h-0.59ZM158.8 420h0.37V456h-0.37ZM203.6 420h0.52V463h-0.52ZM745.9 420h0.60V457h-0.60ZM862.4 420h0.37V454h-0.37ZM199.1 420h0.43V468h-0.43ZM391.5 420h0.39V458h-0.39ZM471.3 420h0.38V468h-0.38ZM999.1 420h0.58V474h-0.58ZM888.7 420h0.43V457h-0.43ZM470.5 420h0.44V459h-0.44ZM307.4 420h0.49V470h-0.49ZM920.6 420h0.49V453h-0.49ZM963.1 420h0.42V449h-0.42ZM641.2 420h0.49V475h-0.49ZM889.9 420h0.37V463h-0.37ZM201.3 420h0.37V469h-0.37ZM202.0 420h0.51V452h-0.51ZM741.4 420h0.41V454h-0.41ZM1046.7 420h0.52V462h-0.52ZM810.2 420h0.53V474h-0.53ZM910.9 420h0.52V472h-0.52ZM918.1 420h0.57V475h-0.57ZM621.8 420h0.53V470h-0.53ZM523.0 420h0.39V469h-0.39ZM480.0 420h0.39V454h-0.39ZM180.6 420h0.46V464h-0.46ZM297.8 420h0.42V453h-0.42ZM419.0 420h0.49V471h-0.49ZM168.5 420h0.59V470h-0.59ZM625.4 420h0.48V456h-0.48ZM749.6 420h0.41V448h-0.41ZM476.2 420h0.55V468h-0.55ZM952.0 420h0.48V466h-0.48ZM375.8 420h0.48V452h-0.48ZM122.3 420h0.56V472h-0.56ZM580.0 420h0.47V475h-0.47ZM940.6 420h0.43V470h-0.43ZM640.5 420h0.48V452h-0.48ZM567.7 420h0.53V458h-0.53ZM222.1 420h0.45V461h-0.45ZM914.2 420h0.51V448h-0.51ZM799.8 420h0.41V464h-0.41ZM710.0 420h0.42V459h-0.42ZM406.1 420h0.43V459h-0.43ZM768.9 420h0.53V453h-0.53ZM1001.1 420h0.46V462h-0.46ZM515.0 420h0.35V459h-0.35ZM1059.7 420h0.55V466h-0.55ZM138.7 420h0.43V458h-0.43ZM222.6 420h0.44V462h-0.44ZM909.9 420h0.50V452h-0.50ZM984.3 420h0.49V458h-0.49ZM256.5 420h0.53V476h-0.53ZM804.9 420h0.56V454h-0.56ZM672.1 420h0.52V457h-0.52ZM466.3 420h0.47V451h-0.47ZM250.6 420h0.58V463h-0.58ZM656.7 420h0.42V473h-0.42ZM902.5 420h0.50V451h-0.50ZM396.9 420h0.57V455h-0.57ZM151.6 420h0.40V476h-0.40ZM750.4 420h0.43V467h-0.43ZM311.8 420h0.47V452h-0.47ZM762.5 420h0.39V475h-0.39ZM570.2 420h0.45V465h-0.45ZM845.7 420h0.54V462h-0.54ZM922.4 420h0.56V459h-0.56ZM662.1 420h0.58V463h-0.58ZM814.7 420h0.58V468h-0.58ZM240.0 420h0.46V462h-0.46ZM992.2 420h0.59V467h-0.59ZM523.9 420h0.55V454h-0.55ZM662.9 420h0.58V451h-0.58ZM680.7 420h0.36V449h-0.36ZM415.3 420h0.47V474h-0.47ZM572.8 420h0.40V456h-0.40ZM572.7 420h0.39V473h-0.39ZM314.1 420h0.51V453h-0.51ZM294.1 420h0.41V467h-0.41ZM477.1 420h0.52V473h-0.52ZM339.9 420h0.43V474h-0.43ZM385.7 420h0.51V451h-0.51ZM694.3 420h0.42V455h-0.42ZM387.8 420h0.49V453h-0.49ZM1065.3 420h0.36V461h-0.36ZM652.5 420h0.51V458h-0.51ZM869.5 420h0.48V462h-0.48ZM542.1 420h0.54V470h-0.54ZM346.6 420h0.47V454h-0.47ZM598.0 420h0.36V465h-0.36ZM138.0 420h0.47V460h-0.47ZM372.4 420h0.55V450h-0.55ZM714.9 420h0.48V455h-0.48ZM273.8 420h0.52V471h-0.52ZM1048.8 420h0.36V462h-0.36ZM1063.8 420h0.39V461h-0.39ZM153.8 420h0.60V469h-0.60ZM1059.1 420h0.50V449h-0.50ZM742.2 420h0.36V458h-0.36ZM947.4 420h0.50V473h-0.50ZM496.6 420h0.56V459h-0.56ZM326.9 420h0.44V453h-0.44ZM277.7 420h0.40V454h-0.40ZM416.0 420h0.46V476h-0.46ZM295.0 420h0.42V459h-0.42ZM1016.4 420h0.44V469h-0.44ZM988.2 420h0.36V457h-0.36ZM200.5 420h0.57V457h-0.57ZM796.5 420h0.42V468h-0.42ZM261.7 420h0.40V456h-0.40ZM144.4 420h0.51V464h-0.51Z" fill="#fff" opacity="0.3"/><path d="M723.2 420h0.55V451h-0.55ZM207.7 420h0.55V467h-0.55ZM271.6 420h0.35V463h-0.35ZM598.8 420h0.52V461h-0.52ZM422.4 420h0.41V456h-0.41ZM1036.9 420h0.56V448h-0.56ZM190.8 420h0.51V470h-0.51ZM233.8 420h0.41V451h-0.41ZM232.4 420h0.46V454h-0.46ZM216.9 420h0.60V454h-0.60ZM859.7 420h0.43V456h-0.43ZM670.3 420h0.57V453h-0.57ZM989.5 420h0.55V455h-0.55ZM964.4 420h0.50V460h-0.50ZM366.7 420h0.56V465h-0.56ZM288.7 420h0.53V450h-0.53ZM655.8 420h0.56V465h-0.56ZM998.0 420h0.40V448h-0.40ZM547.1 420h0.37V453h-0.37ZM149.5 420h0.50V461h-0.50ZM962.5 420h0.45V464h-0.45ZM800.9 420h0.59V456h-0.59ZM1059.8 420h0.46V450h-0.46ZM416.4 420h0.55V449h-0.55ZM555.8 420h0.36V471h-0.36ZM775.4 420h0.40V461h-0.40ZM131.3 420h0.47V468h-0.47ZM1023.7 420h0.47V466h-0.47ZM647.1 420h0.54V462h-0.54ZM894.5 420h0.37V470h-0.37ZM441.3 420h0.55V452h-0.55ZM1025.1 420h0.47V475h-0.47ZM1005.6 420h0.38V470h-0.38ZM306.6 420h0.41V467h-0.41ZM238.4 420h0.48V455h-0.48ZM329.5 420h0.60V473h-0.60ZM349.8 420h0.53V455h-0.53ZM916.6 420h0.46V470h-0.46ZM506.1 420h0.52V448h-0.52ZM773.4 420h0.58V475h-0.58ZM301.7 420h0.37V451h-0.37ZM648.4 420h0.48V464h-0.48ZM613.6 420h0.46V465h-0.46ZM827.8 420h0.45V453h-0.45ZM342.9 420h0.59V467h-0.59ZM366.3 420h0.45V449h-0.45ZM1072.3 420h0.51V471h-0.51ZM624.6 420h0.50V458h-0.50ZM404.0 420h0.35V455h-0.35ZM315.7 420h0.36V463h-0.36ZM544.4 420h0.52V461h-0.52ZM1074.7 420h0.59V469h-0.59ZM686.6 420h0.51V469h-0.51ZM716.9 420h0.38V463h-0.38ZM477.8 420h0.47V454h-0.47ZM833.1 420h0.56V450h-0.56ZM894.6 420h0.51V470h-0.51ZM526.7 420h0.41V471h-0.41ZM834.3 420h0.58V460h-0.58ZM213.7 420h0.57V450h-0.57ZM660.4 420h0.47V467h-0.47ZM1014.5 420h0.57V455h-0.57ZM619.6 420h0.54V459h-0.54ZM400.2 420h0.59V450h-0.59ZM230.8 420h0.51V470h-0.51ZM155.8 420h0.38V453h-0.38ZM346.1 420h0.53V465h-0.53ZM370.0 420h0.57V474h-0.57ZM644.3 420h0.59V462h-0.59ZM271.4 420h0.39V457h-0.39ZM199.8 420h0.42V468h-0.42ZM997.4 420h0.37V471h-0.37ZM418.7 420h0.43V450h-0.43ZM131.0 420h0.60V470h-0.60ZM366.2 420h0.40V468h-0.40ZM1024.5 420h0.49V468h-0.49ZM911.5 420h0.37V452h-0.37ZM921.1 420h0.50V451h-0.50ZM271.2 420h0.38V459h-0.38ZM854.1 420h0.56V459h-0.56ZM720.5 420h0.40V450h-0.40ZM915.2 420h0.40V463h-0.40ZM485.8 420h0.50V471h-0.50ZM665.5 420h0.39V463h-0.39ZM664.0 420h0.43V466h-0.43ZM534.2 420h0.58V457h-0.58ZM839.8 420h0.43V465h-0.43ZM170.7 420h0.52V463h-0.52ZM413.8 420h0.45V455h-0.45ZM239.3 420h0.48V475h-0.48ZM354.2 420h0.42V457h-0.42ZM976.7 420h0.55V459h-0.55ZM978.3 420h0.40V471h-0.40ZM168.8 420h0.38V468h-0.38ZM981.7 420h0.57V468h-0.57ZM786.3 420h0.58V460h-0.58ZM334.4 420h0.43V468h-0.43ZM542.0 420h0.48V463h-0.48ZM204.3 420h0.42V469h-0.42ZM488.8 420h0.58V462h-0.58ZM775.2 420h0.48V475h-0.48ZM866.3 420h0.39V465h-0.39ZM668.4 420h0.57V453h-0.57ZM664.9 420h0.49V470h-0.49ZM260.8 420h0.43V449h-0.43ZM205.6 420h0.56V453h-0.56ZM179.5 420h0.45V458h-0.45ZM158.5 420h0.41V473h-0.41ZM496.6 420h0.42V460h-0.42ZM340.8 420h0.41V463h-0.41ZM562.2 420h0.58V458h-0.58ZM945.8 420h0.40V459h-0.40ZM781.9 420h0.44V456h-0.44ZM804.7 420h0.42V458h-0.42ZM617.5 420h0.36V459h-0.36ZM160.0 420h0.39V465h-0.39ZM419.5 420h0.46V463h-0.46ZM508.5 420h0.45V472h-0.45ZM400.2 420h0.44V454h-0.44Z" fill="#fff" opacity="0.15"/>
<g><path d="M130.70 418V478M141.50 418V478M152.30 418V478M163.10 418V478M173.90 418V478M184.70 418V478M195.51 418V478M206.31 418V478M217.11 418V478M227.91 418V478M238.71 418V478M249.51 418V478M260.31 418V478M271.11 418V478M281.91 418V478M292.72 418V478M303.52 418V478M314.32 418V478M325.12 418V478M335.92 418V478M346.72 418V478M357.52 418V478M368.32 418V478M379.12 418V478M389.92 418V478M400.72 418V478M411.53 418V478M422.33 418V478M433.13 418V478M443.93 418V478M454.73 418V478M465.53 418V478M476.33 418V478M487.13 418V478M497.93 418V478M508.74 418V478M519.54 418V478M530.34 418V478M541.14 418V478M551.94 418V478M562.74 418V478M573.54 418V478M584.34 418V478M595.14 418V478M605.94 418V478M616.75 418V478M627.55 418V478M638.35 418V478M649.15 418V478M659.95 418V478M670.75 418V478M681.55 418V478M692.35 418V478M703.15 418V478M713.95 418V478M724.76 418V478M735.56 418V478M746.36 418V478M757.16 418V478M767.96 418V478M778.76 418V478M789.56 418V478M800.36 418V478M811.16 418V478M821.96 418V478M832.77 418V478M843.57 418V478M854.37 418V478M865.17 418V478M875.97 418V478M886.77 418V478M897.57 418V478M908.37 418V478M919.17 418V478M929.97 418V478M940.78 418V478M951.58 418V478M962.38 418V478M973.18 418V478M983.98 418V478M994.78 418V478M1005.58 418V478M1016.38 418V478M1027.18 418V478M1037.98 418V478M1048.79 418V478M1059.59 418V478M1070.39 418V478" stroke="#c8c8ff" stroke-width="1.0" fill="none" opacity="0.16"/></g>
<text x="599.3" y="491.5" fill="#468246" text-anchor="middle" >15 Insect Conservation by PhastCons</text>
<path d="M120 529.8H1078V530.9H120Z" fill="#468246"/><path d="M128.0 530.9V528.8H128.9V530.9ZM151.3 530.9V528.4H153.0V530.9ZM168.2 530.9V528.3H169.8V530.9ZM180.2 530.9V529.2H181.8V530.9ZM192.2 530.9V528.4H193.2V530.9ZM194.7 530.9V528.7H196.2V530.9ZM199.0 530.9V528.1H200.0V530.9ZM207.5 530.9V528.2H208.6V530.9ZM215.3 530.9V528.2H216.2V530.9ZM230.8 530.9V528.1H232.8V530.9ZM253.1 530.9V528.3H254.5V530.9ZM256.2 530.9V528.3H257.2V530.9ZM275.4 530.9V529.0H276.2V530.9ZM286.4 530.9V528.4H288.4V530.9ZM288.9 530.9V529.1H290.2V530.9ZM296.7 530.9V529.2H297.7V530.9ZM314.5 530.9V529.1H316.0V530.9ZM317.8 530.9V528.9H318.6V530.9ZM337.6 530.9V529.3H338.7V530.9ZM352.0 530.9V528.8H353.5V530.9ZM360.3 530.9V529.0H362.2V530.9ZM363.1 530.9V528.5H364.1V530.9ZM383.2 530.9V528.4H384.8V530.9ZM386.3 530.9V528.0H387.9V530.9ZM388.1 530.9V527.9H389.1V530.9ZM399.4 530.9V529.2H401.4V530.9ZM403.7 530.9V529.2H404.8V530.9ZM408.5 530.9V528.4H410.4V530.9ZM414.6 530.9V529.3H416.3V530.9ZM420.5 530.9V528.2H421.5V530.9ZM423.8 530.9V528.2H425.6V530.9ZM428.5 530.9V528.1H429.9V530.9ZM440.8 530.9V529.2H442.3V530.9ZM479.4 530.9V529.1H481.1V530.9ZM513.8 530.9V528.0H515.2V530.9ZM523.0 530.9V528.7H525.0V530.9ZM538.4 530.9V528.7H539.2V530.9ZM557.6 530.9V528.1H558.8V530.9ZM584.9 530.9V529.0H586.0V530.9ZM589.5 530.9V528.9H591.2V530.9ZM594.5 530.9V528.7H596.1V530.9ZM602.6 530.9V528.9H603.4V530.9ZM606.5 530.9V528.9H608.4V530.9ZM619.7 530.9V529.3H620.9V530.9ZM621.7 530.9V528.6H623.7V530.9ZM629.8 530.9V529.2H631.0V530.9ZM651.0 530.9V529.0H652.9V530.9ZM658.7 530.9V529.2H660.7V530.9ZM665.1 530.9V529.2H665.9V530.9ZM669.5 530.9V528.0H670.8V530.9ZM673.6 530.9V528.2H674.7V530.9ZM678.2 530.9V528.2H679.4V530.9ZM683.4 530.9V529.0H684.6V530.9ZM695.4 530.9V529.3H696.7V530.9ZM701.3 530.9V529.1H702.7V530.9ZM703.4 530.9V528.7H704.3V530.9ZM711.7 530.9V529.0H713.4V530.9ZM725.3 530.9V529.1H727.1V530.9ZM727.5 530.9V528.9H729.4V530.9ZM735.0 530.9V528.4H736.2V530.9ZM740.1 530.9V529.3H741.7V530.9ZM743.4 530.9V528.6H745.1V530.9ZM746.8 530.9V528.6H748.3V530.9ZM750.6 530.9V528.2H752.5V530.9ZM759.6 530.9V528.5H761.5V530.9ZM761.4 530.9V529.2H762.7V530.9ZM763.4 530.9V528.3H764.9V530.9ZM772.0 530.9V528.0H773.1V530.9ZM792.6 530.9V528.0H793.7V530.9ZM799.3 530.9V528.8H800.3V530.9ZM803.7 530.9V528.4H804.8V530.9ZM810.8 530.9V529.0H811.7V530.9ZM815.7 530.9V529.1H817.1V530.9ZM820.9 530.9V529.1H822.4V530.9ZM838.5 530.9V528.0H839.4V530.9ZM858.1 530.9V529.0H859.6V530.9ZM868.4 530.9V528.0H869.9V530.9ZM873.0 530.9V528.8H874.4V530.9ZM876.8 530.9V528.3H878.4V530.9ZM884.3 530.9V528.6H885.9V530.9ZM894.6 530.9V528.7H896.6V530.9ZM911.0 530.9V529.0H912.1V530.9ZM913.4 530.9V529.1H914.7V530.9ZM916.4 530.9V528.5H918.3V530.9ZM947.5 530.9V528.2H948.7V530.9ZM960.3 530.9V528.6H961.9V530.9ZM962.7 530.9V529.3H963.7V530.9ZM966.7 530.9V529.0H967.8V530.9ZM972.2 530.9V528.0H974.2V530.9ZM982.9 530.9V529.2H983.9V530.9ZM1001.3 530.9V529.1H1002.9V530.9ZM1010.7 530.9V528.5H1011.8V530.9ZM1019.0 530.9V529.2H1020.6V530.9ZM1022.5 530.9V529.0H1024.0V530.9ZM1033.7 530.9V528.3H1034.8V530.9ZM1044.8 530.9V528.9H1046.4V530.9ZM1047.2 530.9V529.0H1048.9V530.9ZM1063.1 530.9V528.4H1064.0V530.9ZM1073.5 530.9V528.6H1075.0V530.9Z" fill="#468246" opacity="0.8"/><path d="M122 530.9V527.5H123V530.9ZM125 530.9V528.5H128V530.9ZM148.7 530.9V518.5H149.8V530.9ZM174.5 530.9V523.5H175.5V530.9ZM178.2 530.9V516.5H179.3V530.9ZM182.7 530.9V520.5H184V530.9ZM185.2 530.9V511.0H186.3V530.9ZM189 530.9V520.5H190V530.9ZM195 530.9V527.5H197.5V530.9ZM200.5 530.9V527.5H201.5V530.9ZM207 530.9V514.5H208.2V530.9ZM211 530.9V526.5H214V530.9ZM219 530.9V526.5H221V530.9ZM222.5 530.9V515.5H223.5V530.9ZM225.5 530.9V522.5H226.5V530.9ZM228.2 530.9V519.5H229.3V530.9ZM233.2 530.9V525.5H234.3V530.9ZM239.5 530.9V516.5H240.5V530.9ZM247.5 530.9V521.5H248.5V530.9ZM270.3 530.9V516.0H271.3V530.9ZM285.8 530.9V524.5H286.8V530.9ZM289.5 530.9V517.5H290.5V530.9ZM292 530.9V521.5H293V530.9ZM294.5 530.9V526.5H295.5V530.9ZM305.8 530.9V523.5H306.8V530.9ZM309.5 530.9V516.0H310.5V530.9ZM313.8 530.9V502.5H314.9V530.9ZM317 530.9V523.5H318.2V530.9ZM320 530.9V510.5H321.3V530.9ZM321.3 530.9V495.5H324.6V530.9ZM324.6 530.9V501.5H327.6V530.9ZM332 530.9V526.5H333V530.9ZM338 530.9V523.5H339V530.9ZM342 530.9V525.5H343V530.9ZM348.5 530.9V527.5H349.5V530.9ZM360.5 530.9V524.5H361.5V530.9ZM371 530.9V526.5H372V530.9ZM415 530.9V523.5H416V530.9ZM418 530.9V525.5H419V530.9ZM420 530.9V512.5H421V530.9ZM426 530.9V528.5H427V530.9ZM444 530.9V496.0H451V530.9ZM451 530.9V507.5H451.8V530.9ZM455 530.9V526.5H456V530.9ZM459.4 530.9V522.5H460.4V530.9ZM472.9 530.9V527.5H474.3V530.9ZM475 530.9V522.5H478.7V530.9ZM479 530.9V518.5H481.3V530.9ZM481.6 530.9V520.5H483V530.9ZM483 530.9V513.9H484.5V530.9ZM484.5 530.9V525.5H486V530.9ZM493.6 530.9V511.5H494.9V530.9ZM494.9 530.9V518.5H496V530.9ZM496.8 530.9V526.5H498.2V530.9ZM505.4 530.9V526.5H506.2V530.9ZM516.3 530.9V524.5H517.7V530.9ZM525.7 530.9V527.5H526.7V530.9ZM530.7 530.9V522.5H531.9V530.9ZM552.4 530.9V523.0H553.6V530.9ZM584.9 530.9V528.0H585.7V530.9ZM589.9 530.9V519.0H591.8V530.9ZM591.8 530.9V525.5H592.8V530.9ZM592.9 530.9V495.0H595.7V530.9ZM595.7 530.9V500.5H596.8V530.9ZM601.1 530.9V518.5H602.3V530.9ZM602.3 530.9V499.5H604.4V530.9ZM606.9 530.9V507.5H607.9V530.9ZM607.9 530.9V495.0H609.2V530.9ZM609.2 530.9V505.0H610.9V530.9ZM612 530.9V529.0H612.9V530.9ZM617.2 530.9V526.5H618.1V530.9ZM618.1 530.9V518.5H619.1V530.9ZM619.1 530.9V523.5H620.1V530.9ZM620.1 530.9V509.5H621.1V530.9ZM622.6 530.9V495.0H626.8V530.9ZM626.8 530.9V505.5H627.8V530.9ZM629.3 530.9V526.5H630.3V530.9ZM633.4 530.9V529.0H634.2V530.9ZM635.1 530.9V527.0H635.9V530.9ZM642.5 530.9V527.5H644V530.9ZM644 530.9V504.0H645.2V530.9ZM645.2 530.9V523.0H646.8V530.9ZM646.8 530.9V527.5H647.7V530.9ZM650.8 530.9V526.0H652V530.9ZM653.3 530.9V525.5H654.1V530.9ZM654.1 530.9V495.5H656.2V530.9ZM659.8 530.9V528.0H661V530.9ZM661.2 530.9V495.0H664.9V530.9ZM664.9 530.9V515.0H665.9V530.9ZM673.2 530.9V524.5H674.9V530.9ZM677.3 530.9V529.0H679.2V530.9ZM679.2 530.9V499.5H680.7V530.9ZM680.7 530.9V495.0H683.8V530.9ZM683.8 530.9V501.5H684.8V530.9ZM686 530.9V525.5H687.3V530.9ZM688.8 530.9V525.5H689.9V530.9ZM691 530.9V514.0H692.1V530.9ZM692.1 530.9V519.0H693.1V530.9ZM693.9 530.9V528.0H695.2V530.9ZM696.8 530.9V526.5H698.1V530.9ZM698.1 530.9V529.0H699.8V530.9ZM705 530.9V529.0H706.8V530.9ZM708.8 530.9V525.0H710.1V530.9ZM710.1 530.9V528.5H711.3V530.9ZM717 530.9V513.5H718V530.9ZM718.2 530.9V522.5H719.2V530.9ZM740.1 530.9V524.0H741V530.9ZM742.9 530.9V527.5H744V530.9ZM744 530.9V522.0H745V530.9ZM745 530.9V518.0H745.9V530.9ZM745.9 530.9V523.0H747V530.9ZM747 530.9V527.5H747.9V530.9ZM749.9 530.9V527.0H753.7V530.9ZM753.9 530.9V522.5H754.9V530.9ZM754.9 530.9V527.5H756.1V530.9ZM759.9 530.9V527.0H761.7V530.9ZM761.7 530.9V512.0H763V530.9ZM763 530.9V517.5H764V530.9ZM764 530.9V506.5H765V530.9ZM765 530.9V504.0H766.3V530.9ZM768.8 530.9V518.5H769.8V530.9ZM769.8 530.9V517.0H771.1V530.9ZM771.1 530.9V524.5H771.9V530.9ZM771.9 530.9V522.5H773V530.9ZM773 530.9V526.5H773.8V530.9ZM773.8 530.9V524.0H774.8V530.9ZM774.8 530.9V528.0H776V530.9ZM778.1 530.9V529.0H779.9V530.9ZM779.9 530.9V525.0H781V530.9ZM781 530.9V528.0H782.7V530.9ZM782.7 530.9V529.0H784.8V530.9ZM786 530.9V529.0H787.7V530.9ZM795.9 530.9V527.5H797V530.9ZM797 530.9V523.5H798.8V530.9ZM798.8 530.9V525.0H799.9V530.9ZM800 530.9V524.0H800.7V530.9ZM800.8 530.9V519.0H801.8V530.9ZM803 530.9V528.5H805V530.9ZM805.1 530.9V516.5H806V530.9ZM806 530.9V504.0H807.3V530.9ZM807.3 530.9V518.5H807.9V530.9ZM807.9 530.9V512.0H809V530.9ZM809 530.9V524.5H810.8V530.9ZM812.9 530.9V527.5H814.1V530.9ZM814.3 530.9V495.5H817V530.9ZM817 530.9V498.5H818.9V530.9ZM818.9 530.9V496.5H819.9V530.9ZM821.7 530.9V500.5H823.2V530.9ZM823.2 530.9V497.5H824.9V530.9ZM824.9 530.9V495.0H829.9V530.9ZM829.9 530.9V527.5H831.1V530.9ZM831.1 530.9V523.5H832.2V530.9ZM832.2 530.9V496.0H833.3V530.9ZM833.3 530.9V506.5H834.2V530.9ZM834.2 530.9V523.5H835.7V530.9ZM835.8 530.9V498.0H836.9V530.9ZM836.9 530.9V495.5H838V530.9ZM838 530.9V499.5H838.8V530.9ZM841 530.9V497.0H843.1V530.9ZM843.1 530.9V495.0H844.1V530.9ZM844.1 530.9V500.5H845.2V530.9ZM845.2 530.9V498.5H846V530.9ZM846 530.9V529.0H849V530.9ZM849.1 530.9V522.0H849.9V530.9ZM849.9 530.9V497.5H851.2V530.9ZM851.2 530.9V503.0H853.9V530.9ZM853.9 530.9V513.0H855.7V530.9ZM859.7 530.9V527.5H860.9V530.9ZM860.9 530.9V523.5H862V530.9ZM862.6 530.9V519.0H864V530.9ZM870.3 530.9V528.5H872.5V530.9ZM880 530.9V521.5H880.9V530.9ZM882.3 530.9V526.5H884.8V530.9ZM889.1 530.9V524.5H891V530.9ZM892.7 530.9V528.5H895.6V530.9ZM897 530.9V514.5H897.9V530.9ZM902 530.9V526.0H904.3V530.9ZM904.6 530.9V519.5H905.7V530.9ZM906 530.9V512.5H907.2V530.9ZM908.6 530.9V528.5H911.5V530.9ZM912 530.9V520.5H913.7V530.9ZM914.4 530.9V527.5H915.9V530.9ZM916.9 530.9V522.5H917.7V530.9ZM924 530.9V516.0H925V530.9ZM926 530.9V523.5H927V530.9ZM929.2 530.9V522.5H930.6V530.9ZM931.8 530.9V526.5H933.5V530.9ZM934 530.9V513.9H935V530.9ZM935.4 530.9V526.5H936.8V530.9ZM940 530.9V519.5H941.5V530.9ZM942.6 530.9V525.5H943.8V530.9ZM943.8 530.9V516.0H944.8V530.9ZM945.5 530.9V522.5H947V530.9ZM947.3 530.9V512.5H949.1V530.9ZM949.1 530.9V503.0H950.3V530.9ZM950.3 530.9V515.5H951.3V530.9ZM952 530.9V522.5H952.8V530.9ZM955.6 530.9V522.5H958.5V530.9ZM959 530.9V524.5H960.1V530.9ZM970.1 530.9V522.5H971.1V530.9ZM975.9 530.9V495.8H977.3V530.9ZM977.3 530.9V520.5H978.8V530.9ZM978.8 530.9V513.5H980.2V530.9ZM980.2 530.9V525.5H982.4V530.9ZM982.4 530.9V528.5H985V530.9ZM986.3 530.9V527.5H987.3V530.9ZM996.7 530.9V527.5H997.7V530.9ZM997.9 530.9V513.9H999V530.9ZM999 530.9V518.5H999.9V530.9ZM1000.3 530.9V527.5H1001.8V530.9ZM1003.9 530.9V525.5H1004.8V530.9ZM1005.4 530.9V521.5H1006.8V530.9ZM1015.2 530.9V527.5H1018.4V530.9ZM1024.2 530.9V527.5H1025.6V530.9ZM1033.3 530.9V514.5H1034.6V530.9ZM1034.6 530.9V518.5H1035.5V530.9ZM1035.5 530.9V524.5H1036.5V530.9ZM1048 530.9V518.5H1049V530.9ZM1049 530.9V497.5H1050.2V530.9ZM1050.2 530.9V523.5H1051.7V530.9ZM1052 530.9V512.5H1053.1V530.9ZM1057.4 530.9V528.5H1058.2V530.9ZM1070.8 530.9V528.5H1071.6V530.9ZM1076 530.9V519.5H1077.4V530.9Z" fill="#468246"/><path d="M154 530.9V521.5H155.2V530.9ZM587.1 530.9V523.5H588.2V530.9ZM588.2 530.9V521.0H589.6V530.9ZM597.9 530.9V517.5H599.2V530.9ZM614.2 530.9V524.5H615.8V530.9ZM630.5 530.9V525.5H631.6V530.9ZM639 530.9V523.0H640.5V530.9ZM640.5 530.9V524.0H642.5V530.9ZM647.9 530.9V517.5H649.1V530.9ZM649.1 530.9V514.0H650.8V530.9ZM652 530.9V520.0H653.3V530.9ZM656.2 530.9V502.5H657.3V530.9ZM658.7 530.9V518.0H659.8V530.9ZM669 530.9V527.0H670.7V530.9ZM684.8 530.9V517.5H686V530.9ZM687.3 530.9V522.0H688.8V530.9ZM695.2 530.9V514.0H696.8V530.9ZM737.5 530.9V527.0H738.7V530.9ZM741 530.9V519.0H742.9V530.9ZM756.1 530.9V518.0H757.8V530.9ZM758.2 530.9V524.0H759.7V530.9ZM776 530.9V526.0H778.1V530.9ZM792 530.9V520.0H794V530.9ZM794 530.9V518.0H795.9V530.9ZM811.2 530.9V512.0H812.9V530.9ZM819.9 530.9V508.0H821.7V530.9ZM838.8 530.9V516.0H839.8V530.9ZM839.8 530.9V522.5H841V530.9ZM855.7 530.9V518.5H857.2V530.9ZM857.2 530.9V508.5H859.7V530.9ZM865.1 530.9V525.5H868V530.9ZM877.1 530.9V519.5H878.6V530.9ZM886.2 530.9V525.5H887.7V530.9ZM899.7 530.9V519.5H900.8V530.9ZM920.2 530.9V526.5H921.7V530.9ZM974.2 530.9V506.5H975.9V530.9ZM994.2 530.9V516.5H995.3V530.9ZM1002.2 530.9V509.5H1003.6V530.9ZM1008.3 530.9V522.5H1009.7V530.9ZM1019.1 530.9V522.5H1020.7V530.9ZM1028.5 530.9V521.5H1030.7V530.9ZM1044.4 530.9V524.5H1045.9V530.9ZM1053.1 530.9V518.5H1054.3V530.9ZM1064.4 530.9V524.5H1065.8V530.9Z" fill="#468246" opacity="0.6"/><path d="M604.4 530.9V495.0H606.9V530.9ZM621.1 530.9V497.5H622.6V530.9ZM657.3 530.9V495.5H658.7V530.9ZM674.9 530.9V495.5H677.3V530.9ZM766.3 530.9V497.5H767.8V530.9ZM767.8 530.9V500.5H768.8V530.9Z" fill="#468246" opacity="0.82"/>
<text x="599.3" y="545.5" fill="#000" text-anchor="middle" >12 Flies, Mosquito, Honeybee, Beetle Multiz Alignments &amp; phastCons Scores</text>
<path d="M185.55 549V568H186.95V549ZM195.6 549V568H197.0V549ZM206.8 549V568H208.3V549ZM222.3 549V568H223.7V549ZM228.5 549V568H230V549ZM313.3 549V568H315.3V549ZM317.7 549V568H319.2V549ZM320.9 549V568H327.6V549ZM419.8 549V568H421.2V549ZM443.6 549V568H451.6V549ZM476.4 549V568H477.8V549ZM481.5 549V568H482.9V549ZM493.9 549V568H495.7V549ZM587.9 549V568H589.3V549ZM590.05 549V568H591.45V549ZM592.2 549V568H596.4V549ZM598.9 549V568H600.3V549ZM601.5 549V568H610.7V549ZM619.3 549V568H622.2V549ZM622.7 549V568H627.7V549ZM643.8 549V568H645.2V549ZM653.8 549V568H657.7V549ZM657.95 549V568H659.35V549ZM661 549V568H664.6V549ZM674.5 549V568H676.5V549ZM679 549V568H685.3V549ZM690.9 549V568H692.6V549ZM716.8 549V568H718.2V549ZM762.25 549V568H763.65V549ZM764.2 549V568H769V549ZM769.4 549V568H771.1V549ZM806.1 549V568H809.7V549ZM814 549V568H830V549ZM831.9 549V568H833.3V549ZM833.75 549V568H835.15V549ZM835.8 549V568H838.7V549ZM841.1 549V568H845.8V549ZM850 549V568H854V549ZM854.7 549V568H856.1V549ZM857.5 549V568H859.3V549ZM896.75 549V568H898.15V549ZM905.9 549V568H907.3V549ZM948 549V568H950.1V549ZM978.7 549V568H980.1V549ZM998.7 549V568H1000.1V549ZM1048.9 549V568H1050.3V549Z" fill="#6e0a28"/><path d="M631.3 549V568H632.4V549ZM649.9 549V568H650.9V549ZM685.3 549V568H687V549ZM695 549V568H696.7V549ZM811.2 549V568H812.6V549ZM974.2 549V568H976.7V549ZM1002.2 549V568H1003.6V549ZM1052.8 549V568H1054V549Z" fill="#6e0a28" opacity="0.6"/><path d="M604 549V568H606.6V549Z" fill="#fff" opacity="0.3"/>
<text x="93.0" y="505.9" fill="#468246" text-anchor="end" >15 Insect Cons</text>
<text x="117.9" y="491.8" fill="#468246" text-anchor="end" >1 <tspan fill-opacity="0.7">_</tspan></text>
<text x="117.9" y="527.9" fill="#468246" text-anchor="end" >0 <tspan fill-opacity="0.7">_</tspan></text>
<text x="117.7" y="563.1" fill="#6e0a28" text-anchor="end" >15 Insect El</text>
</svg>
</body></html>
